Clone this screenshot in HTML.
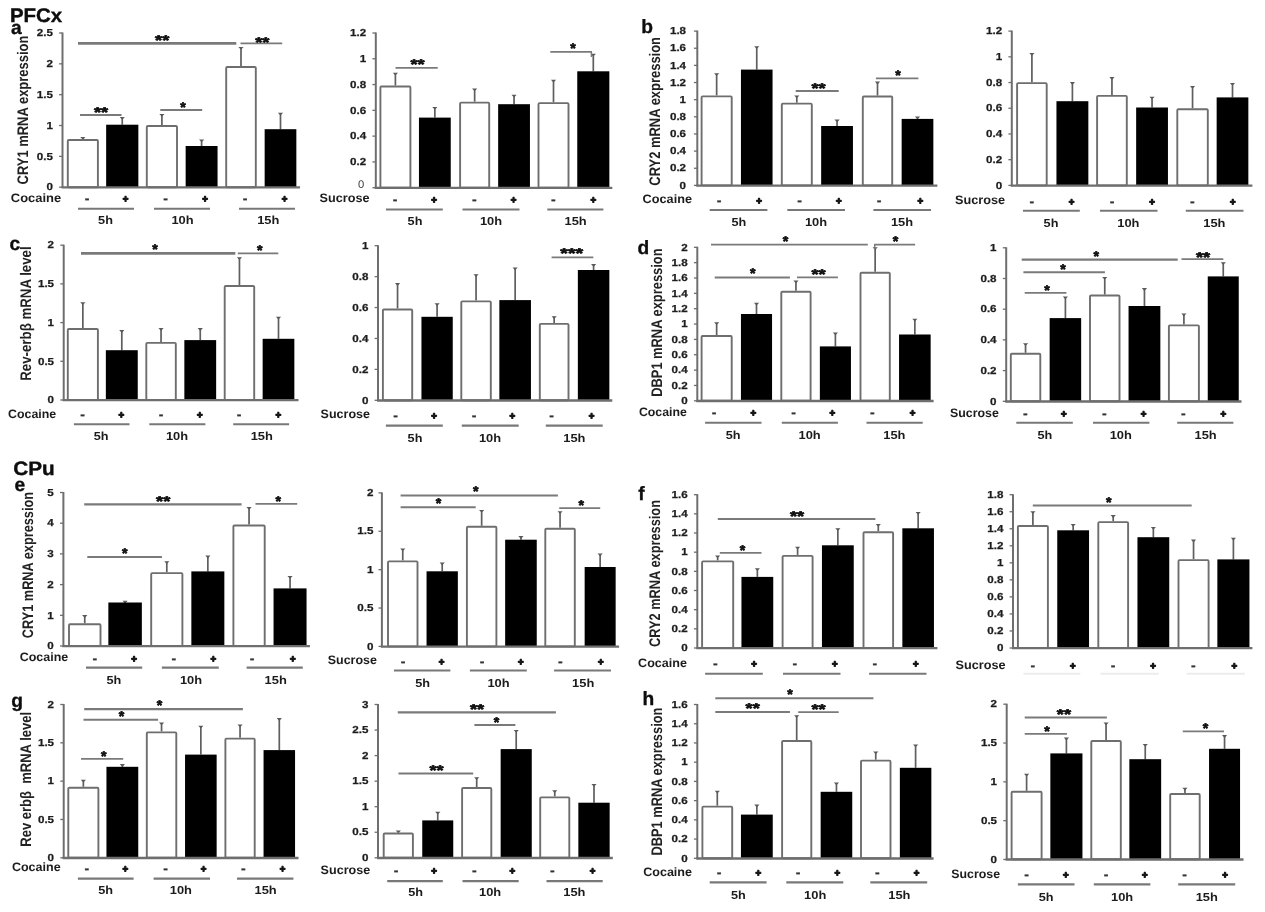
<!DOCTYPE html>
<html lang="en"><head><meta charset="utf-8"><title>Clock gene mRNA expression in PFCx and CPu</title>
<style>html,body{margin:0;padding:0;background:#fff}body{width:1265px;height:912px;overflow:hidden}svg{display:block;font-family:"Liberation Sans", Arial, Helvetica, sans-serif;text-rendering:geometricPrecision}</style></head><body>
<svg width="1265" height="912" viewBox="0 0 1265 912">
<defs><filter id="soft" x="0" y="0" width="1265" height="912" filterUnits="userSpaceOnUse"><feGaussianBlur stdDeviation="0.42"/></filter></defs>
<rect width="1265" height="912" fill="#fff"/>
<g filter="url(#soft)">
<text x="9.9" y="21.5" font-size="19.6" font-weight="bold" text-anchor="start" fill="#0a0a0a" textLength="52.3" lengthAdjust="spacingAndGlyphs" stroke="#0a0a0a" stroke-width="0.35">PFCx</text>
<text x="13.2" y="474.6" font-size="19.4" font-weight="bold" text-anchor="start" fill="#0a0a0a" textLength="41.5" lengthAdjust="spacingAndGlyphs" stroke="#0a0a0a" stroke-width="0.35">CPu</text>
<g>
<line x1="82.85" y1="137.5" x2="82.85" y2="139" stroke="#5e5e5e" stroke-width="1.7" stroke-linecap="butt"/>
<path d="M80.25 136.9 L85.45 136.9 L82.85 139.7 Z" fill="#5a5a5a"/>
<rect x="67.8" y="139.95" width="30.1" height="47.25" fill="#fff" stroke="#6e6e6e" stroke-width="1.9" rx="1" ry="1"/>
<line x1="122.25" y1="117.6" x2="122.25" y2="124.7" stroke="#5e5e5e" stroke-width="1.7" stroke-linecap="butt"/>
<path d="M119.65 117 L124.85 117 L122.25 119.8 Z" fill="#5a5a5a"/>
<rect x="106.15" y="124.7" width="32.2" height="62.5" fill="#000"/>
<line x1="161.9" y1="114.5" x2="161.9" y2="125.1" stroke="#5e5e5e" stroke-width="1.7" stroke-linecap="butt"/>
<path d="M159.3 113.9 L164.5 113.9 L161.9 116.7 Z" fill="#5a5a5a"/>
<rect x="146.8" y="126.05" width="30.2" height="61.15" fill="#fff" stroke="#6e6e6e" stroke-width="1.9" rx="1" ry="1"/>
<line x1="201.6" y1="140" x2="201.6" y2="146" stroke="#5e5e5e" stroke-width="1.7" stroke-linecap="butt"/>
<path d="M199 139.4 L204.2 139.4 L201.6 142.2 Z" fill="#5a5a5a"/>
<rect x="185.65" y="146" width="31.9" height="41.2" fill="#000"/>
<line x1="241" y1="47.5" x2="241" y2="66" stroke="#5e5e5e" stroke-width="1.7" stroke-linecap="butt"/>
<path d="M238.4 46.9 L243.6 46.9 L241 49.7 Z" fill="#5a5a5a"/>
<rect x="226.2" y="66.95" width="29.6" height="120.25" fill="#fff" stroke="#6e6e6e" stroke-width="1.9" rx="1" ry="1"/>
<line x1="280.5" y1="113.3" x2="280.5" y2="129.2" stroke="#5e5e5e" stroke-width="1.7" stroke-linecap="butt"/>
<path d="M277.9 112.7 L283.1 112.7 L280.5 115.5 Z" fill="#5a5a5a"/>
<rect x="264.65" y="129.2" width="31.7" height="58" fill="#000"/>
<line x1="62.5" y1="32.5" x2="62.5" y2="188" stroke="#6e6e6e" stroke-width="2" stroke-linecap="butt"/>
<line x1="61.5" y1="187.4" x2="300" y2="187.4" stroke="#6e6e6e" stroke-width="2.3" stroke-linecap="butt"/>
<line x1="59.1" y1="33" x2="62.5" y2="33" stroke="#6e6e6e" stroke-width="1.3" stroke-linecap="butt"/>
<text x="52.9" y="36.2" font-size="10.1" font-weight="bold" text-anchor="end" fill="#1c1c1c" textLength="16.14" lengthAdjust="spacingAndGlyphs" stroke="#1c1c1c" stroke-width="0.25">2.5</text>
<line x1="59.1" y1="63.84" x2="62.5" y2="63.84" stroke="#6e6e6e" stroke-width="1.3" stroke-linecap="butt"/>
<text x="52.9" y="67.04" font-size="10.1" font-weight="bold" text-anchor="end" fill="#1c1c1c" textLength="6.46" lengthAdjust="spacingAndGlyphs" stroke="#1c1c1c" stroke-width="0.25">2</text>
<line x1="59.1" y1="94.68" x2="62.5" y2="94.68" stroke="#6e6e6e" stroke-width="1.3" stroke-linecap="butt"/>
<text x="52.9" y="97.88" font-size="10.1" font-weight="bold" text-anchor="end" fill="#1c1c1c" textLength="16.14" lengthAdjust="spacingAndGlyphs" stroke="#1c1c1c" stroke-width="0.25">1.5</text>
<line x1="59.1" y1="125.52" x2="62.5" y2="125.52" stroke="#6e6e6e" stroke-width="1.3" stroke-linecap="butt"/>
<text x="52.9" y="128.72" font-size="10.1" font-weight="bold" text-anchor="end" fill="#1c1c1c" textLength="6.46" lengthAdjust="spacingAndGlyphs" stroke="#1c1c1c" stroke-width="0.25">1</text>
<line x1="59.1" y1="156.36" x2="62.5" y2="156.36" stroke="#6e6e6e" stroke-width="1.3" stroke-linecap="butt"/>
<text x="52.9" y="159.56" font-size="10.1" font-weight="bold" text-anchor="end" fill="#1c1c1c" textLength="16.14" lengthAdjust="spacingAndGlyphs" stroke="#1c1c1c" stroke-width="0.25">0.5</text>
<line x1="59.1" y1="187.2" x2="62.5" y2="187.2" stroke="#6e6e6e" stroke-width="1.3" stroke-linecap="butt"/>
<text x="52.9" y="190.4" font-size="10.1" font-weight="bold" text-anchor="end" fill="#1c1c1c" textLength="6.46" lengthAdjust="spacingAndGlyphs" stroke="#1c1c1c" stroke-width="0.25">0</text>
<line x1="78" y1="43.4" x2="236.3" y2="43.4" stroke="#7a7a7a" stroke-width="2.74" stroke-linecap="butt"/>
<text x="162.2" y="45.1" font-size="14.2" font-weight="bold" text-anchor="middle" fill="#0c0c0c" textLength="14.2" lengthAdjust="spacingAndGlyphs" stroke="#0c0c0c" stroke-width="0.65" stroke-linejoin="round">**</text>
<line x1="240.5" y1="43.4" x2="282.2" y2="43.4" stroke="#7a7a7a" stroke-width="1.78" stroke-linecap="butt"/>
<text x="262.3" y="46.5" font-size="14.2" font-weight="bold" text-anchor="middle" fill="#0c0c0c" textLength="14.2" lengthAdjust="spacingAndGlyphs" stroke="#0c0c0c" stroke-width="0.65" stroke-linejoin="round">**</text>
<line x1="80" y1="115" x2="121.5" y2="115" stroke="#7a7a7a" stroke-width="1.78" stroke-linecap="butt"/>
<text x="101" y="116.5" font-size="14.2" font-weight="bold" text-anchor="middle" fill="#0c0c0c" textLength="14.2" lengthAdjust="spacingAndGlyphs" stroke="#0c0c0c" stroke-width="0.65" stroke-linejoin="round">**</text>
<line x1="160.3" y1="110" x2="202.2" y2="110" stroke="#7a7a7a" stroke-width="1.78" stroke-linecap="butt"/>
<text x="183" y="111.5" font-size="14.2" font-weight="bold" text-anchor="middle" fill="#0c0c0c" stroke="#0c0c0c" stroke-width="0.65" stroke-linejoin="round">*</text>
<text x="10.8" y="201.6" font-size="12.2" font-weight="bold" text-anchor="start" fill="#1c1c1c" textLength="50.4" lengthAdjust="spacingAndGlyphs">Cocaine</text>
<text x="87" y="203.2" font-size="14" font-weight="bold" text-anchor="middle" fill="#333" stroke="#333" stroke-width="0.3">-</text>
<text x="165.7" y="203.2" font-size="14" font-weight="bold" text-anchor="middle" fill="#333" stroke="#333" stroke-width="0.3">-</text>
<text x="245" y="203.2" font-size="14" font-weight="bold" text-anchor="middle" fill="#333" stroke="#333" stroke-width="0.3">-</text>
<text x="125.6" y="202.15" font-size="9.6" font-weight="bold" text-anchor="middle" fill="#161616" stroke="#161616" stroke-width="1.25" stroke-linejoin="round">+</text>
<text x="205" y="202.15" font-size="9.6" font-weight="bold" text-anchor="middle" fill="#161616" stroke="#161616" stroke-width="1.25" stroke-linejoin="round">+</text>
<text x="284.6" y="202.15" font-size="9.6" font-weight="bold" text-anchor="middle" fill="#161616" stroke="#161616" stroke-width="1.25" stroke-linejoin="round">+</text>
<line x1="78" y1="208.7" x2="134" y2="208.7" stroke="#787878" stroke-width="2.1" stroke-linecap="butt"/>
<line x1="154" y1="208.7" x2="210" y2="208.7" stroke="#787878" stroke-width="2.1" stroke-linecap="butt"/>
<line x1="239" y1="208.7" x2="295" y2="208.7" stroke="#787878" stroke-width="2.1" stroke-linecap="butt"/>
<text x="105.5" y="224.3" font-size="11.6" font-weight="bold" text-anchor="middle" fill="#1c1c1c" textLength="14.8" lengthAdjust="spacingAndGlyphs">5h</text>
<text x="182.5" y="224.3" font-size="11.6" font-weight="bold" text-anchor="middle" fill="#1c1c1c" textLength="22.2" lengthAdjust="spacingAndGlyphs">10h</text>
<text x="268.3" y="224.3" font-size="11.6" font-weight="bold" text-anchor="middle" fill="#1c1c1c" textLength="22.2" lengthAdjust="spacingAndGlyphs">15h</text>
<text transform="translate(28.3 110.05) rotate(-90)" font-size="15.3" font-weight="bold" text-anchor="middle" fill="#222" stroke="none" textLength="148.7" lengthAdjust="spacingAndGlyphs">CRY1 mRNA expression</text>
<text x="11" y="34.3" font-size="19.2" font-weight="bold" text-anchor="start" fill="#0a0a0a" stroke="#0a0a0a" stroke-width="0.3">a</text>
</g>
<g>
<line x1="395.4" y1="73.4" x2="395.4" y2="85.5" stroke="#5e5e5e" stroke-width="1.7" stroke-linecap="butt"/>
<path d="M392.8 72.8 L398 72.8 L395.4 75.6 Z" fill="#5a5a5a"/>
<rect x="380.4" y="86.45" width="30" height="101.25" fill="#fff" stroke="#6e6e6e" stroke-width="1.9" rx="1" ry="1"/>
<line x1="434.85" y1="107.5" x2="434.85" y2="117.6" stroke="#5e5e5e" stroke-width="1.7" stroke-linecap="butt"/>
<path d="M432.25 106.9 L437.45 106.9 L434.85 109.7 Z" fill="#5a5a5a"/>
<rect x="418.95" y="117.6" width="31.8" height="70.1" fill="#000"/>
<line x1="474.65" y1="89" x2="474.65" y2="101.7" stroke="#5e5e5e" stroke-width="1.7" stroke-linecap="butt"/>
<path d="M472.05 88.4 L477.25 88.4 L474.65 91.2 Z" fill="#5a5a5a"/>
<rect x="460.1" y="102.65" width="29.1" height="85.05" fill="#fff" stroke="#6e6e6e" stroke-width="1.9" rx="1" ry="1"/>
<line x1="514.05" y1="95.4" x2="514.05" y2="104.2" stroke="#5e5e5e" stroke-width="1.7" stroke-linecap="butt"/>
<path d="M511.45 94.8 L516.65 94.8 L514.05 97.6 Z" fill="#5a5a5a"/>
<rect x="498.15" y="104.2" width="31.8" height="83.5" fill="#000"/>
<line x1="553.5" y1="80.4" x2="553.5" y2="102.2" stroke="#5e5e5e" stroke-width="1.7" stroke-linecap="butt"/>
<path d="M550.9 79.8 L556.1 79.8 L553.5 82.6 Z" fill="#5a5a5a"/>
<rect x="538.5" y="103.15" width="30" height="84.55" fill="#fff" stroke="#6e6e6e" stroke-width="1.9" rx="1" ry="1"/>
<line x1="593.3" y1="54.4" x2="593.3" y2="71.3" stroke="#5e5e5e" stroke-width="1.7" stroke-linecap="butt"/>
<path d="M590.7 53.8 L595.9 53.8 L593.3 56.6 Z" fill="#5a5a5a"/>
<rect x="577.25" y="71.3" width="32.1" height="116.4" fill="#000"/>
<line x1="375.8" y1="32.5" x2="375.8" y2="188.5" stroke="#6e6e6e" stroke-width="2" stroke-linecap="butt"/>
<line x1="374.8" y1="187.9" x2="612.3" y2="187.9" stroke="#6e6e6e" stroke-width="2.3" stroke-linecap="butt"/>
<line x1="372.4" y1="33" x2="375.8" y2="33" stroke="#6e6e6e" stroke-width="1.3" stroke-linecap="butt"/>
<text x="366.2" y="36.2" font-size="10.1" font-weight="bold" text-anchor="end" fill="#1c1c1c" textLength="16.14" lengthAdjust="spacingAndGlyphs" stroke="#1c1c1c" stroke-width="0.25">1.2</text>
<line x1="372.4" y1="58.78" x2="375.8" y2="58.78" stroke="#6e6e6e" stroke-width="1.3" stroke-linecap="butt"/>
<text x="366.2" y="61.98" font-size="10.1" font-weight="bold" text-anchor="end" fill="#1c1c1c" textLength="6.46" lengthAdjust="spacingAndGlyphs" stroke="#1c1c1c" stroke-width="0.25">1</text>
<line x1="372.4" y1="84.57" x2="375.8" y2="84.57" stroke="#6e6e6e" stroke-width="1.3" stroke-linecap="butt"/>
<text x="366.2" y="87.77" font-size="10.1" font-weight="bold" text-anchor="end" fill="#1c1c1c" textLength="16.14" lengthAdjust="spacingAndGlyphs" stroke="#1c1c1c" stroke-width="0.25">0.8</text>
<line x1="372.4" y1="110.35" x2="375.8" y2="110.35" stroke="#6e6e6e" stroke-width="1.3" stroke-linecap="butt"/>
<text x="366.2" y="113.55" font-size="10.1" font-weight="bold" text-anchor="end" fill="#1c1c1c" textLength="16.14" lengthAdjust="spacingAndGlyphs" stroke="#1c1c1c" stroke-width="0.25">0.6</text>
<line x1="372.4" y1="136.13" x2="375.8" y2="136.13" stroke="#6e6e6e" stroke-width="1.3" stroke-linecap="butt"/>
<text x="366.2" y="139.33" font-size="10.1" font-weight="bold" text-anchor="end" fill="#1c1c1c" textLength="16.14" lengthAdjust="spacingAndGlyphs" stroke="#1c1c1c" stroke-width="0.25">0.4</text>
<line x1="372.4" y1="161.92" x2="375.8" y2="161.92" stroke="#6e6e6e" stroke-width="1.3" stroke-linecap="butt"/>
<text x="366.2" y="165.12" font-size="10.1" font-weight="bold" text-anchor="end" fill="#1c1c1c" textLength="16.14" lengthAdjust="spacingAndGlyphs" stroke="#1c1c1c" stroke-width="0.25">0.2</text>
<line x1="372.4" y1="187.7" x2="375.8" y2="187.7" stroke="#6e6e6e" stroke-width="1.3" stroke-linecap="butt"/>
<text x="364.3" y="187.5" font-size="11.2" font-weight="normal" text-anchor="end" fill="#3a3a44">0</text>
<line x1="395.5" y1="67.8" x2="437.7" y2="67.8" stroke="#7a7a7a" stroke-width="1.78" stroke-linecap="butt"/>
<text x="417.5" y="69.1" font-size="14.2" font-weight="bold" text-anchor="middle" fill="#0c0c0c" textLength="14.2" lengthAdjust="spacingAndGlyphs" stroke="#0c0c0c" stroke-width="0.65" stroke-linejoin="round">**</text>
<line x1="550.3" y1="51.9" x2="592" y2="51.9" stroke="#7a7a7a" stroke-width="1.78" stroke-linecap="butt"/>
<line x1="591.4" y1="51.2" x2="591.4" y2="57" stroke="#7a7a7a" stroke-width="1.4" stroke-linecap="butt"/>
<text x="573" y="53.1" font-size="14.2" font-weight="bold" text-anchor="middle" fill="#0c0c0c" stroke="#0c0c0c" stroke-width="0.65" stroke-linejoin="round">*</text>
<text x="319.6" y="201.7" font-size="12.2" font-weight="bold" text-anchor="start" fill="#1c1c1c" textLength="50" lengthAdjust="spacingAndGlyphs">Sucrose</text>
<text x="395" y="203.8" font-size="14" font-weight="bold" text-anchor="middle" fill="#333" stroke="#333" stroke-width="0.3">-</text>
<text x="474.4" y="203.8" font-size="14" font-weight="bold" text-anchor="middle" fill="#333" stroke="#333" stroke-width="0.3">-</text>
<text x="553.4" y="203.8" font-size="14" font-weight="bold" text-anchor="middle" fill="#333" stroke="#333" stroke-width="0.3">-</text>
<text x="434" y="202.75" font-size="9.6" font-weight="bold" text-anchor="middle" fill="#161616" stroke="#161616" stroke-width="1.25" stroke-linejoin="round">+</text>
<text x="513.6" y="202.75" font-size="9.6" font-weight="bold" text-anchor="middle" fill="#161616" stroke="#161616" stroke-width="1.25" stroke-linejoin="round">+</text>
<text x="593.3" y="202.75" font-size="9.6" font-weight="bold" text-anchor="middle" fill="#161616" stroke="#161616" stroke-width="1.25" stroke-linejoin="round">+</text>
<line x1="386" y1="209.5" x2="442.8" y2="209.5" stroke="#787878" stroke-width="2.1" stroke-linecap="butt"/>
<line x1="462.5" y1="209.5" x2="519.5" y2="209.5" stroke="#787878" stroke-width="2.1" stroke-linecap="butt"/>
<line x1="547.3" y1="209.5" x2="603.4" y2="209.5" stroke="#787878" stroke-width="2.1" stroke-linecap="butt"/>
<text x="415" y="225.3" font-size="11.6" font-weight="bold" text-anchor="middle" fill="#1c1c1c" textLength="14.8" lengthAdjust="spacingAndGlyphs">5h</text>
<text x="491" y="225.3" font-size="11.6" font-weight="bold" text-anchor="middle" fill="#1c1c1c" textLength="22.2" lengthAdjust="spacingAndGlyphs">10h</text>
<text x="575.6" y="225.3" font-size="11.6" font-weight="bold" text-anchor="middle" fill="#1c1c1c" textLength="22.2" lengthAdjust="spacingAndGlyphs">15h</text>
</g>
<g>
<line x1="716.65" y1="73.9" x2="716.65" y2="95.4" stroke="#5e5e5e" stroke-width="1.7" stroke-linecap="butt"/>
<path d="M714.05 73.3 L719.25 73.3 L716.65 76.1 Z" fill="#5a5a5a"/>
<rect x="701.6" y="96.35" width="30.1" height="89.05" fill="#fff" stroke="#6e6e6e" stroke-width="1.9" rx="1" ry="1"/>
<line x1="756.75" y1="46.8" x2="756.75" y2="69.6" stroke="#5e5e5e" stroke-width="1.7" stroke-linecap="butt"/>
<path d="M754.15 46.2 L759.35 46.2 L756.75 49 Z" fill="#5a5a5a"/>
<rect x="740.95" y="69.6" width="31.6" height="115.8" fill="#000"/>
<line x1="796.8" y1="96.1" x2="796.8" y2="102.7" stroke="#5e5e5e" stroke-width="1.7" stroke-linecap="butt"/>
<path d="M794.2 95.5 L799.4 95.5 L796.8 98.3 Z" fill="#5a5a5a"/>
<rect x="781.8" y="103.65" width="30" height="81.75" fill="#fff" stroke="#6e6e6e" stroke-width="1.9" rx="1" ry="1"/>
<line x1="837.05" y1="120.2" x2="837.05" y2="126" stroke="#5e5e5e" stroke-width="1.7" stroke-linecap="butt"/>
<path d="M834.45 119.6 L839.65 119.6 L837.05 122.4 Z" fill="#5a5a5a"/>
<rect x="821.15" y="126" width="31.8" height="59.4" fill="#000"/>
<line x1="877.5" y1="82.2" x2="877.5" y2="95.6" stroke="#5e5e5e" stroke-width="1.7" stroke-linecap="butt"/>
<path d="M874.9 81.6 L880.1 81.6 L877.5 84.4 Z" fill="#5a5a5a"/>
<rect x="862.8" y="96.55" width="29.4" height="88.85" fill="#fff" stroke="#6e6e6e" stroke-width="1.9" rx="1" ry="1"/>
<line x1="917.5" y1="117" x2="917.5" y2="118.9" stroke="#5e5e5e" stroke-width="1.7" stroke-linecap="butt"/>
<path d="M914.9 116.4 L920.1 116.4 L917.5 119.2 Z" fill="#5a5a5a"/>
<rect x="901.65" y="118.9" width="31.7" height="66.5" fill="#000"/>
<line x1="697.3" y1="30.6" x2="697.3" y2="186.2" stroke="#6e6e6e" stroke-width="2" stroke-linecap="butt"/>
<line x1="696.3" y1="185.6" x2="937.4" y2="185.6" stroke="#6e6e6e" stroke-width="2.3" stroke-linecap="butt"/>
<line x1="693.9" y1="31.1" x2="697.3" y2="31.1" stroke="#6e6e6e" stroke-width="1.3" stroke-linecap="butt"/>
<text x="686.1" y="34.3" font-size="10.1" font-weight="bold" text-anchor="end" fill="#1c1c1c" textLength="16.14" lengthAdjust="spacingAndGlyphs" stroke="#1c1c1c" stroke-width="0.25">1.8</text>
<line x1="693.9" y1="48.24" x2="697.3" y2="48.24" stroke="#6e6e6e" stroke-width="1.3" stroke-linecap="butt"/>
<text x="686.1" y="51.44" font-size="10.1" font-weight="bold" text-anchor="end" fill="#1c1c1c" textLength="16.14" lengthAdjust="spacingAndGlyphs" stroke="#1c1c1c" stroke-width="0.25">1.6</text>
<line x1="693.9" y1="65.39" x2="697.3" y2="65.39" stroke="#6e6e6e" stroke-width="1.3" stroke-linecap="butt"/>
<text x="686.1" y="68.59" font-size="10.1" font-weight="bold" text-anchor="end" fill="#1c1c1c" textLength="16.14" lengthAdjust="spacingAndGlyphs" stroke="#1c1c1c" stroke-width="0.25">1.4</text>
<line x1="693.9" y1="82.53" x2="697.3" y2="82.53" stroke="#6e6e6e" stroke-width="1.3" stroke-linecap="butt"/>
<text x="686.1" y="85.73" font-size="10.1" font-weight="bold" text-anchor="end" fill="#1c1c1c" textLength="16.14" lengthAdjust="spacingAndGlyphs" stroke="#1c1c1c" stroke-width="0.25">1.2</text>
<line x1="693.9" y1="99.68" x2="697.3" y2="99.68" stroke="#6e6e6e" stroke-width="1.3" stroke-linecap="butt"/>
<text x="686.1" y="102.88" font-size="10.1" font-weight="bold" text-anchor="end" fill="#1c1c1c" textLength="6.46" lengthAdjust="spacingAndGlyphs" stroke="#1c1c1c" stroke-width="0.25">1</text>
<line x1="693.9" y1="116.82" x2="697.3" y2="116.82" stroke="#6e6e6e" stroke-width="1.3" stroke-linecap="butt"/>
<text x="686.1" y="120.02" font-size="10.1" font-weight="bold" text-anchor="end" fill="#1c1c1c" textLength="16.14" lengthAdjust="spacingAndGlyphs" stroke="#1c1c1c" stroke-width="0.25">0.8</text>
<line x1="693.9" y1="133.97" x2="697.3" y2="133.97" stroke="#6e6e6e" stroke-width="1.3" stroke-linecap="butt"/>
<text x="686.1" y="137.17" font-size="10.1" font-weight="bold" text-anchor="end" fill="#1c1c1c" textLength="16.14" lengthAdjust="spacingAndGlyphs" stroke="#1c1c1c" stroke-width="0.25">0.6</text>
<line x1="693.9" y1="151.11" x2="697.3" y2="151.11" stroke="#6e6e6e" stroke-width="1.3" stroke-linecap="butt"/>
<text x="686.1" y="154.31" font-size="10.1" font-weight="bold" text-anchor="end" fill="#1c1c1c" textLength="16.14" lengthAdjust="spacingAndGlyphs" stroke="#1c1c1c" stroke-width="0.25">0.4</text>
<line x1="693.9" y1="168.26" x2="697.3" y2="168.26" stroke="#6e6e6e" stroke-width="1.3" stroke-linecap="butt"/>
<text x="686.1" y="171.46" font-size="10.1" font-weight="bold" text-anchor="end" fill="#1c1c1c" textLength="16.14" lengthAdjust="spacingAndGlyphs" stroke="#1c1c1c" stroke-width="0.25">0.2</text>
<line x1="693.9" y1="185.4" x2="697.3" y2="185.4" stroke="#6e6e6e" stroke-width="1.3" stroke-linecap="butt"/>
<text x="686.1" y="188.6" font-size="10.1" font-weight="bold" text-anchor="end" fill="#1c1c1c" textLength="6.46" lengthAdjust="spacingAndGlyphs" stroke="#1c1c1c" stroke-width="0.25">0</text>
<line x1="795.7" y1="91" x2="838.7" y2="91" stroke="#7a7a7a" stroke-width="1.78" stroke-linecap="butt"/>
<text x="818.5" y="92.5" font-size="14.2" font-weight="bold" text-anchor="middle" fill="#0c0c0c" textLength="14.2" lengthAdjust="spacingAndGlyphs" stroke="#0c0c0c" stroke-width="0.65" stroke-linejoin="round">**</text>
<line x1="875.9" y1="78.4" x2="918.4" y2="78.4" stroke="#7a7a7a" stroke-width="1.78" stroke-linecap="butt"/>
<text x="898" y="79.9" font-size="14.2" font-weight="bold" text-anchor="middle" fill="#0c0c0c" stroke="#0c0c0c" stroke-width="0.65" stroke-linejoin="round">*</text>
<text x="642.6" y="203.4" font-size="12.2" font-weight="bold" text-anchor="start" fill="#1c1c1c" textLength="49.4" lengthAdjust="spacingAndGlyphs">Cocaine</text>
<text x="719" y="204.8" font-size="14" font-weight="bold" text-anchor="middle" fill="#333" stroke="#333" stroke-width="0.3">-</text>
<text x="799.5" y="204.8" font-size="14" font-weight="bold" text-anchor="middle" fill="#333" stroke="#333" stroke-width="0.3">-</text>
<text x="879.2" y="204.8" font-size="14" font-weight="bold" text-anchor="middle" fill="#333" stroke="#333" stroke-width="0.3">-</text>
<text x="759" y="203.75" font-size="9.6" font-weight="bold" text-anchor="middle" fill="#161616" stroke="#161616" stroke-width="1.25" stroke-linejoin="round">+</text>
<text x="838.7" y="203.75" font-size="9.6" font-weight="bold" text-anchor="middle" fill="#161616" stroke="#161616" stroke-width="1.25" stroke-linejoin="round">+</text>
<text x="920.2" y="203.75" font-size="9.6" font-weight="bold" text-anchor="middle" fill="#161616" stroke="#161616" stroke-width="1.25" stroke-linejoin="round">+</text>
<line x1="709.7" y1="210" x2="767.4" y2="210" stroke="#787878" stroke-width="2.1" stroke-linecap="butt"/>
<line x1="787.3" y1="210" x2="845" y2="210" stroke="#787878" stroke-width="2.1" stroke-linecap="butt"/>
<line x1="873.4" y1="210" x2="931" y2="210" stroke="#787878" stroke-width="2.1" stroke-linecap="butt"/>
<text x="738.8" y="226.3" font-size="11.6" font-weight="bold" text-anchor="middle" fill="#1c1c1c" textLength="14.8" lengthAdjust="spacingAndGlyphs">5h</text>
<text x="816" y="226.3" font-size="11.6" font-weight="bold" text-anchor="middle" fill="#1c1c1c" textLength="22.2" lengthAdjust="spacingAndGlyphs">10h</text>
<text x="902" y="226.3" font-size="11.6" font-weight="bold" text-anchor="middle" fill="#1c1c1c" textLength="22.2" lengthAdjust="spacingAndGlyphs">15h</text>
<text transform="translate(659.5 111.35) rotate(-90)" font-size="15.3" font-weight="bold" text-anchor="middle" fill="#222" stroke="none" textLength="148.7" lengthAdjust="spacingAndGlyphs">CRY2 mRNA expression</text>
<text x="641.2" y="32.6" font-size="19.2" font-weight="bold" text-anchor="start" fill="#0a0a0a" stroke="#0a0a0a" stroke-width="0.3">b</text>
</g>
<g>
<line x1="1031.9" y1="53.6" x2="1031.9" y2="82.2" stroke="#5e5e5e" stroke-width="1.7" stroke-linecap="butt"/>
<path d="M1029.3 53 L1034.5 53 L1031.9 55.8 Z" fill="#5a5a5a"/>
<rect x="1017.1" y="83.15" width="29.6" height="102.25" fill="#fff" stroke="#6e6e6e" stroke-width="1.9" rx="1" ry="1"/>
<line x1="1072.4" y1="82.7" x2="1072.4" y2="101.2" stroke="#5e5e5e" stroke-width="1.7" stroke-linecap="butt"/>
<path d="M1069.8 82.1 L1075 82.1 L1072.4 84.9 Z" fill="#5a5a5a"/>
<rect x="1056.45" y="101.2" width="31.9" height="84.2" fill="#000"/>
<line x1="1111.95" y1="77.7" x2="1111.95" y2="94.9" stroke="#5e5e5e" stroke-width="1.7" stroke-linecap="butt"/>
<path d="M1109.35 77.1 L1114.55 77.1 L1111.95 79.9 Z" fill="#5a5a5a"/>
<rect x="1097.1" y="95.85" width="29.7" height="89.55" fill="#fff" stroke="#6e6e6e" stroke-width="1.9" rx="1" ry="1"/>
<line x1="1152.05" y1="97.4" x2="1152.05" y2="107.5" stroke="#5e5e5e" stroke-width="1.7" stroke-linecap="butt"/>
<path d="M1149.45 96.8 L1154.65 96.8 L1152.05 99.6 Z" fill="#5a5a5a"/>
<rect x="1136.15" y="107.5" width="31.8" height="77.9" fill="#000"/>
<line x1="1192.55" y1="86.5" x2="1192.55" y2="108.3" stroke="#5e5e5e" stroke-width="1.7" stroke-linecap="butt"/>
<path d="M1189.95 85.9 L1195.15 85.9 L1192.55 88.7 Z" fill="#5a5a5a"/>
<rect x="1177.3" y="109.25" width="30.5" height="76.15" fill="#fff" stroke="#6e6e6e" stroke-width="1.9" rx="1" ry="1"/>
<line x1="1232.5" y1="83.5" x2="1232.5" y2="97.4" stroke="#5e5e5e" stroke-width="1.7" stroke-linecap="butt"/>
<path d="M1229.9 82.9 L1235.1 82.9 L1232.5 85.7 Z" fill="#5a5a5a"/>
<rect x="1216.65" y="97.4" width="31.7" height="88" fill="#000"/>
<line x1="1011.8" y1="30.6" x2="1011.8" y2="186.2" stroke="#6e6e6e" stroke-width="2" stroke-linecap="butt"/>
<line x1="1010.8" y1="185.6" x2="1252.4" y2="185.6" stroke="#6e6e6e" stroke-width="2.3" stroke-linecap="butt"/>
<line x1="1008.4" y1="31.1" x2="1011.8" y2="31.1" stroke="#6e6e6e" stroke-width="1.3" stroke-linecap="butt"/>
<text x="1002.2" y="34.3" font-size="10.1" font-weight="bold" text-anchor="end" fill="#1c1c1c" textLength="16.14" lengthAdjust="spacingAndGlyphs" stroke="#1c1c1c" stroke-width="0.25">1.2</text>
<line x1="1008.4" y1="56.82" x2="1011.8" y2="56.82" stroke="#6e6e6e" stroke-width="1.3" stroke-linecap="butt"/>
<text x="1002.2" y="60.02" font-size="10.1" font-weight="bold" text-anchor="end" fill="#1c1c1c" textLength="6.46" lengthAdjust="spacingAndGlyphs" stroke="#1c1c1c" stroke-width="0.25">1</text>
<line x1="1008.4" y1="82.53" x2="1011.8" y2="82.53" stroke="#6e6e6e" stroke-width="1.3" stroke-linecap="butt"/>
<text x="1002.2" y="85.73" font-size="10.1" font-weight="bold" text-anchor="end" fill="#1c1c1c" textLength="16.14" lengthAdjust="spacingAndGlyphs" stroke="#1c1c1c" stroke-width="0.25">0.8</text>
<line x1="1008.4" y1="108.25" x2="1011.8" y2="108.25" stroke="#6e6e6e" stroke-width="1.3" stroke-linecap="butt"/>
<text x="1002.2" y="111.45" font-size="10.1" font-weight="bold" text-anchor="end" fill="#1c1c1c" textLength="16.14" lengthAdjust="spacingAndGlyphs" stroke="#1c1c1c" stroke-width="0.25">0.6</text>
<line x1="1008.4" y1="133.97" x2="1011.8" y2="133.97" stroke="#6e6e6e" stroke-width="1.3" stroke-linecap="butt"/>
<text x="1002.2" y="137.17" font-size="10.1" font-weight="bold" text-anchor="end" fill="#1c1c1c" textLength="16.14" lengthAdjust="spacingAndGlyphs" stroke="#1c1c1c" stroke-width="0.25">0.4</text>
<line x1="1008.4" y1="159.68" x2="1011.8" y2="159.68" stroke="#6e6e6e" stroke-width="1.3" stroke-linecap="butt"/>
<text x="1002.2" y="162.88" font-size="10.1" font-weight="bold" text-anchor="end" fill="#1c1c1c" textLength="16.14" lengthAdjust="spacingAndGlyphs" stroke="#1c1c1c" stroke-width="0.25">0.2</text>
<line x1="1008.4" y1="185.4" x2="1011.8" y2="185.4" stroke="#6e6e6e" stroke-width="1.3" stroke-linecap="butt"/>
<text x="1002.2" y="188.6" font-size="10.1" font-weight="bold" text-anchor="end" fill="#1c1c1c" textLength="6.46" lengthAdjust="spacingAndGlyphs" stroke="#1c1c1c" stroke-width="0.25">0</text>
<text x="955" y="204.2" font-size="12.2" font-weight="bold" text-anchor="start" fill="#1c1c1c" textLength="50.2" lengthAdjust="spacingAndGlyphs">Sucrose</text>
<text x="1031.8" y="205.8" font-size="14" font-weight="bold" text-anchor="middle" fill="#333" stroke="#333" stroke-width="0.3">-</text>
<text x="1112" y="205.8" font-size="14" font-weight="bold" text-anchor="middle" fill="#333" stroke="#333" stroke-width="0.3">-</text>
<text x="1192.4" y="205.8" font-size="14" font-weight="bold" text-anchor="middle" fill="#333" stroke="#333" stroke-width="0.3">-</text>
<text x="1071.5" y="204.75" font-size="9.6" font-weight="bold" text-anchor="middle" fill="#161616" stroke="#161616" stroke-width="1.25" stroke-linejoin="round">+</text>
<text x="1152" y="204.75" font-size="9.6" font-weight="bold" text-anchor="middle" fill="#161616" stroke="#161616" stroke-width="1.25" stroke-linejoin="round">+</text>
<text x="1232.9" y="204.75" font-size="9.6" font-weight="bold" text-anchor="middle" fill="#161616" stroke="#161616" stroke-width="1.25" stroke-linejoin="round">+</text>
<line x1="1023" y1="210.7" x2="1079.8" y2="210.7" stroke="#787878" stroke-width="2.1" stroke-linecap="butt"/>
<line x1="1100" y1="210.7" x2="1157.5" y2="210.7" stroke="#787878" stroke-width="2.1" stroke-linecap="butt"/>
<line x1="1185.8" y1="210.7" x2="1243.5" y2="210.7" stroke="#787878" stroke-width="2.1" stroke-linecap="butt"/>
<text x="1051" y="226.9" font-size="11.6" font-weight="bold" text-anchor="middle" fill="#1c1c1c" textLength="14.8" lengthAdjust="spacingAndGlyphs">5h</text>
<text x="1128.4" y="226.9" font-size="11.6" font-weight="bold" text-anchor="middle" fill="#1c1c1c" textLength="22.2" lengthAdjust="spacingAndGlyphs">10h</text>
<text x="1214.4" y="226.9" font-size="11.6" font-weight="bold" text-anchor="middle" fill="#1c1c1c" textLength="22.2" lengthAdjust="spacingAndGlyphs">15h</text>
</g>
<g>
<line x1="82.85" y1="302.9" x2="82.85" y2="328" stroke="#5e5e5e" stroke-width="1.7" stroke-linecap="butt"/>
<path d="M80.25 302.3 L85.45 302.3 L82.85 305.1 Z" fill="#5a5a5a"/>
<rect x="67.8" y="328.95" width="30.1" height="71.05" fill="#fff" stroke="#6e6e6e" stroke-width="1.9" rx="1" ry="1"/>
<line x1="121.8" y1="330.7" x2="121.8" y2="350.2" stroke="#5e5e5e" stroke-width="1.7" stroke-linecap="butt"/>
<path d="M119.2 330.1 L124.4 330.1 L121.8 332.9 Z" fill="#5a5a5a"/>
<rect x="105.85" y="350.2" width="31.9" height="49.8" fill="#000"/>
<line x1="161.05" y1="328.7" x2="161.05" y2="341.9" stroke="#5e5e5e" stroke-width="1.7" stroke-linecap="butt"/>
<path d="M158.45 328.1 L163.65 328.1 L161.05 330.9 Z" fill="#5a5a5a"/>
<rect x="146.3" y="342.85" width="29.5" height="57.15" fill="#fff" stroke="#6e6e6e" stroke-width="1.9" rx="1" ry="1"/>
<line x1="200.25" y1="328.7" x2="200.25" y2="340.1" stroke="#5e5e5e" stroke-width="1.7" stroke-linecap="butt"/>
<path d="M197.65 328.1 L202.85 328.1 L200.25 330.9 Z" fill="#5a5a5a"/>
<rect x="184.35" y="340.1" width="31.8" height="59.9" fill="#000"/>
<line x1="239.45" y1="257.9" x2="239.45" y2="285" stroke="#5e5e5e" stroke-width="1.7" stroke-linecap="butt"/>
<path d="M236.85 257.3 L242.05 257.3 L239.45 260.1 Z" fill="#5a5a5a"/>
<rect x="224.7" y="285.95" width="29.5" height="114.05" fill="#fff" stroke="#6e6e6e" stroke-width="1.9" rx="1" ry="1"/>
<line x1="278.5" y1="317.3" x2="278.5" y2="338.8" stroke="#5e5e5e" stroke-width="1.7" stroke-linecap="butt"/>
<path d="M275.9 316.7 L281.1 316.7 L278.5 319.5 Z" fill="#5a5a5a"/>
<rect x="262.65" y="338.8" width="31.7" height="61.2" fill="#000"/>
<line x1="63.7" y1="244.7" x2="63.7" y2="400.8" stroke="#6e6e6e" stroke-width="2" stroke-linecap="butt"/>
<line x1="62.7" y1="400.2" x2="298.5" y2="400.2" stroke="#6e6e6e" stroke-width="2.3" stroke-linecap="butt"/>
<line x1="60.3" y1="245.2" x2="63.7" y2="245.2" stroke="#6e6e6e" stroke-width="1.3" stroke-linecap="butt"/>
<text x="54.1" y="248.4" font-size="10.1" font-weight="bold" text-anchor="end" fill="#1c1c1c" textLength="6.46" lengthAdjust="spacingAndGlyphs" stroke="#1c1c1c" stroke-width="0.25">2</text>
<line x1="60.3" y1="283.9" x2="63.7" y2="283.9" stroke="#6e6e6e" stroke-width="1.3" stroke-linecap="butt"/>
<text x="54.1" y="287.1" font-size="10.1" font-weight="bold" text-anchor="end" fill="#1c1c1c" textLength="16.14" lengthAdjust="spacingAndGlyphs" stroke="#1c1c1c" stroke-width="0.25">1.5</text>
<line x1="60.3" y1="322.6" x2="63.7" y2="322.6" stroke="#6e6e6e" stroke-width="1.3" stroke-linecap="butt"/>
<text x="54.1" y="325.8" font-size="10.1" font-weight="bold" text-anchor="end" fill="#1c1c1c" textLength="6.46" lengthAdjust="spacingAndGlyphs" stroke="#1c1c1c" stroke-width="0.25">1</text>
<line x1="60.3" y1="361.3" x2="63.7" y2="361.3" stroke="#6e6e6e" stroke-width="1.3" stroke-linecap="butt"/>
<text x="54.1" y="364.5" font-size="10.1" font-weight="bold" text-anchor="end" fill="#1c1c1c" textLength="16.14" lengthAdjust="spacingAndGlyphs" stroke="#1c1c1c" stroke-width="0.25">0.5</text>
<line x1="60.3" y1="400" x2="63.7" y2="400" stroke="#6e6e6e" stroke-width="1.3" stroke-linecap="butt"/>
<text x="54.1" y="403.2" font-size="10.1" font-weight="bold" text-anchor="end" fill="#1c1c1c" textLength="6.46" lengthAdjust="spacingAndGlyphs" stroke="#1c1c1c" stroke-width="0.25">0</text>
<line x1="81" y1="253.3" x2="235.3" y2="253.3" stroke="#7a7a7a" stroke-width="2.74" stroke-linecap="butt"/>
<text x="155" y="254.1" font-size="14.2" font-weight="bold" text-anchor="middle" fill="#0c0c0c" stroke="#0c0c0c" stroke-width="0.65" stroke-linejoin="round">*</text>
<line x1="237.8" y1="253.3" x2="278.3" y2="253.3" stroke="#7a7a7a" stroke-width="1.78" stroke-linecap="butt"/>
<text x="259.8" y="255.3" font-size="14.2" font-weight="bold" text-anchor="middle" fill="#0c0c0c" stroke="#0c0c0c" stroke-width="0.65" stroke-linejoin="round">*</text>
<text x="8" y="417.9" font-size="12.2" font-weight="bold" text-anchor="start" fill="#1c1c1c" textLength="48.2" lengthAdjust="spacingAndGlyphs">Cocaine</text>
<text x="82.7" y="419.2" font-size="14" font-weight="bold" text-anchor="middle" fill="#333" stroke="#333" stroke-width="0.3">-</text>
<text x="161.1" y="419.2" font-size="14" font-weight="bold" text-anchor="middle" fill="#333" stroke="#333" stroke-width="0.3">-</text>
<text x="239" y="419.2" font-size="14" font-weight="bold" text-anchor="middle" fill="#333" stroke="#333" stroke-width="0.3">-</text>
<text x="121.4" y="418.15" font-size="9.6" font-weight="bold" text-anchor="middle" fill="#161616" stroke="#161616" stroke-width="1.25" stroke-linejoin="round">+</text>
<text x="199.8" y="418.15" font-size="9.6" font-weight="bold" text-anchor="middle" fill="#161616" stroke="#161616" stroke-width="1.25" stroke-linejoin="round">+</text>
<text x="278.3" y="418.15" font-size="9.6" font-weight="bold" text-anchor="middle" fill="#161616" stroke="#161616" stroke-width="1.25" stroke-linejoin="round">+</text>
<line x1="73.9" y1="424.3" x2="129.5" y2="424.3" stroke="#787878" stroke-width="2.1" stroke-linecap="butt"/>
<line x1="149.3" y1="424.3" x2="205.4" y2="424.3" stroke="#787878" stroke-width="2.1" stroke-linecap="butt"/>
<line x1="233.2" y1="424.3" x2="289.1" y2="424.3" stroke="#787878" stroke-width="2.1" stroke-linecap="butt"/>
<text x="101.2" y="439.9" font-size="11.6" font-weight="bold" text-anchor="middle" fill="#1c1c1c" textLength="14.8" lengthAdjust="spacingAndGlyphs">5h</text>
<text x="177" y="439.9" font-size="11.6" font-weight="bold" text-anchor="middle" fill="#1c1c1c" textLength="22.2" lengthAdjust="spacingAndGlyphs">10h</text>
<text x="261.8" y="439.9" font-size="11.6" font-weight="bold" text-anchor="middle" fill="#1c1c1c" textLength="22.2" lengthAdjust="spacingAndGlyphs">15h</text>
<text transform="translate(31.2 313.55) rotate(-90)" font-size="15.3" font-weight="bold" text-anchor="middle" fill="#222" stroke="none" textLength="134.5" lengthAdjust="spacingAndGlyphs">Rev-erbβ mRNA level</text>
<text x="9.4" y="249.6" font-size="19.2" font-weight="bold" text-anchor="start" fill="#0a0a0a" stroke="#0a0a0a" stroke-width="0.3">c</text>
</g>
<g>
<line x1="397.55" y1="283.7" x2="397.55" y2="308.5" stroke="#5e5e5e" stroke-width="1.7" stroke-linecap="butt"/>
<path d="M394.95 283.1 L400.15 283.1 L397.55 285.9 Z" fill="#5a5a5a"/>
<rect x="382.9" y="309.45" width="29.3" height="90.85" fill="#fff" stroke="#6e6e6e" stroke-width="1.9" rx="1" ry="1"/>
<line x1="437.1" y1="303.9" x2="437.1" y2="316.8" stroke="#5e5e5e" stroke-width="1.7" stroke-linecap="butt"/>
<path d="M434.5 303.3 L439.7 303.3 L437.1 306.1 Z" fill="#5a5a5a"/>
<rect x="421.45" y="316.8" width="31.3" height="83.5" fill="#000"/>
<line x1="476.05" y1="274.8" x2="476.05" y2="300.4" stroke="#5e5e5e" stroke-width="1.7" stroke-linecap="butt"/>
<path d="M473.45 274.2 L478.65 274.2 L476.05 277 Z" fill="#5a5a5a"/>
<rect x="461.3" y="301.35" width="29.5" height="98.95" fill="#fff" stroke="#6e6e6e" stroke-width="1.9" rx="1" ry="1"/>
<line x1="515.15" y1="268" x2="515.15" y2="300.1" stroke="#5e5e5e" stroke-width="1.7" stroke-linecap="butt"/>
<path d="M512.55 267.4 L517.75 267.4 L515.15 270.2 Z" fill="#5a5a5a"/>
<rect x="499.35" y="300.1" width="31.6" height="100.2" fill="#000"/>
<line x1="554.15" y1="316.8" x2="554.15" y2="322.9" stroke="#5e5e5e" stroke-width="1.7" stroke-linecap="butt"/>
<path d="M551.55 316.2 L556.75 316.2 L554.15 319 Z" fill="#5a5a5a"/>
<rect x="539.8" y="323.85" width="28.7" height="76.45" fill="#fff" stroke="#6e6e6e" stroke-width="1.9" rx="1" ry="1"/>
<line x1="593.6" y1="264.7" x2="593.6" y2="270" stroke="#5e5e5e" stroke-width="1.7" stroke-linecap="butt"/>
<path d="M591 264.1 L596.2 264.1 L593.6 266.9 Z" fill="#5a5a5a"/>
<rect x="577.85" y="270" width="31.5" height="130.3" fill="#000"/>
<line x1="378" y1="245.2" x2="378" y2="401.1" stroke="#6e6e6e" stroke-width="2" stroke-linecap="butt"/>
<line x1="377" y1="400.5" x2="612.3" y2="400.5" stroke="#6e6e6e" stroke-width="2.3" stroke-linecap="butt"/>
<line x1="374.6" y1="245.7" x2="378" y2="245.7" stroke="#6e6e6e" stroke-width="1.3" stroke-linecap="butt"/>
<text x="368.4" y="248.9" font-size="10.1" font-weight="bold" text-anchor="end" fill="#1c1c1c" textLength="6.46" lengthAdjust="spacingAndGlyphs" stroke="#1c1c1c" stroke-width="0.25">1</text>
<line x1="374.6" y1="276.62" x2="378" y2="276.62" stroke="#6e6e6e" stroke-width="1.3" stroke-linecap="butt"/>
<text x="368.4" y="279.82" font-size="10.1" font-weight="bold" text-anchor="end" fill="#1c1c1c" textLength="16.14" lengthAdjust="spacingAndGlyphs" stroke="#1c1c1c" stroke-width="0.25">0.8</text>
<line x1="374.6" y1="307.54" x2="378" y2="307.54" stroke="#6e6e6e" stroke-width="1.3" stroke-linecap="butt"/>
<text x="368.4" y="310.74" font-size="10.1" font-weight="bold" text-anchor="end" fill="#1c1c1c" textLength="16.14" lengthAdjust="spacingAndGlyphs" stroke="#1c1c1c" stroke-width="0.25">0.6</text>
<line x1="374.6" y1="338.46" x2="378" y2="338.46" stroke="#6e6e6e" stroke-width="1.3" stroke-linecap="butt"/>
<text x="368.4" y="341.66" font-size="10.1" font-weight="bold" text-anchor="end" fill="#1c1c1c" textLength="16.14" lengthAdjust="spacingAndGlyphs" stroke="#1c1c1c" stroke-width="0.25">0.4</text>
<line x1="374.6" y1="369.38" x2="378" y2="369.38" stroke="#6e6e6e" stroke-width="1.3" stroke-linecap="butt"/>
<text x="368.4" y="372.58" font-size="10.1" font-weight="bold" text-anchor="end" fill="#1c1c1c" textLength="16.14" lengthAdjust="spacingAndGlyphs" stroke="#1c1c1c" stroke-width="0.25">0.2</text>
<line x1="374.6" y1="400.3" x2="378" y2="400.3" stroke="#6e6e6e" stroke-width="1.3" stroke-linecap="butt"/>
<text x="368.4" y="403.5" font-size="10.1" font-weight="bold" text-anchor="end" fill="#1c1c1c" textLength="6.46" lengthAdjust="spacingAndGlyphs" stroke="#1c1c1c" stroke-width="0.25">0</text>
<line x1="551.6" y1="257.4" x2="593.3" y2="257.4" stroke="#7a7a7a" stroke-width="1.78" stroke-linecap="butt"/>
<text x="571.8" y="258.3" font-size="14.2" font-weight="bold" text-anchor="middle" fill="#0c0c0c" textLength="22.9" lengthAdjust="spacingAndGlyphs" stroke="#0c0c0c" stroke-width="0.65" stroke-linejoin="round">***</text>
<text x="320.6" y="418.4" font-size="12.2" font-weight="bold" text-anchor="start" fill="#1c1c1c" textLength="49.4" lengthAdjust="spacingAndGlyphs">Sucrose</text>
<text x="395.5" y="419.8" font-size="14" font-weight="bold" text-anchor="middle" fill="#333" stroke="#333" stroke-width="0.3">-</text>
<text x="474" y="419.8" font-size="14" font-weight="bold" text-anchor="middle" fill="#333" stroke="#333" stroke-width="0.3">-</text>
<text x="551.6" y="419.8" font-size="14" font-weight="bold" text-anchor="middle" fill="#333" stroke="#333" stroke-width="0.3">-</text>
<text x="434" y="418.75" font-size="9.6" font-weight="bold" text-anchor="middle" fill="#161616" stroke="#161616" stroke-width="1.25" stroke-linejoin="round">+</text>
<text x="512.4" y="418.75" font-size="9.6" font-weight="bold" text-anchor="middle" fill="#161616" stroke="#161616" stroke-width="1.25" stroke-linejoin="round">+</text>
<text x="591.6" y="418.75" font-size="9.6" font-weight="bold" text-anchor="middle" fill="#161616" stroke="#161616" stroke-width="1.25" stroke-linejoin="round">+</text>
<line x1="385.9" y1="425.6" x2="442.8" y2="425.6" stroke="#787878" stroke-width="2.1" stroke-linecap="butt"/>
<line x1="461.8" y1="425.6" x2="518.7" y2="425.6" stroke="#787878" stroke-width="2.1" stroke-linecap="butt"/>
<line x1="545.8" y1="425.6" x2="602.7" y2="425.6" stroke="#787878" stroke-width="2.1" stroke-linecap="butt"/>
<text x="415" y="441.7" font-size="11.6" font-weight="bold" text-anchor="middle" fill="#1c1c1c" textLength="14.8" lengthAdjust="spacingAndGlyphs">5h</text>
<text x="490" y="441.7" font-size="11.6" font-weight="bold" text-anchor="middle" fill="#1c1c1c" textLength="22.2" lengthAdjust="spacingAndGlyphs">10h</text>
<text x="574.4" y="441.7" font-size="11.6" font-weight="bold" text-anchor="middle" fill="#1c1c1c" textLength="22.2" lengthAdjust="spacingAndGlyphs">15h</text>
</g>
<g>
<line x1="716.65" y1="322.9" x2="716.65" y2="335" stroke="#5e5e5e" stroke-width="1.7" stroke-linecap="butt"/>
<path d="M714.05 322.3 L719.25 322.3 L716.65 325.1 Z" fill="#5a5a5a"/>
<rect x="701.6" y="335.95" width="30.1" height="64.85" fill="#fff" stroke="#6e6e6e" stroke-width="1.9" rx="1" ry="1"/>
<line x1="756.5" y1="303.4" x2="756.5" y2="314" stroke="#5e5e5e" stroke-width="1.7" stroke-linecap="butt"/>
<path d="M753.9 302.8 L759.1 302.8 L756.5 305.6 Z" fill="#5a5a5a"/>
<rect x="740.95" y="314" width="31.1" height="86.8" fill="#000"/>
<line x1="795.95" y1="281.2" x2="795.95" y2="290.8" stroke="#5e5e5e" stroke-width="1.7" stroke-linecap="butt"/>
<path d="M793.35 280.6 L798.55 280.6 L795.95 283.4 Z" fill="#5a5a5a"/>
<rect x="781.3" y="291.75" width="29.3" height="109.05" fill="#fff" stroke="#6e6e6e" stroke-width="1.9" rx="1" ry="1"/>
<line x1="835.4" y1="333" x2="835.4" y2="346.4" stroke="#5e5e5e" stroke-width="1.7" stroke-linecap="butt"/>
<path d="M832.8 332.4 L838 332.4 L835.4 335.2 Z" fill="#5a5a5a"/>
<rect x="819.85" y="346.4" width="31.1" height="54.4" fill="#000"/>
<line x1="875.15" y1="247.8" x2="875.15" y2="271.8" stroke="#5e5e5e" stroke-width="1.7" stroke-linecap="butt"/>
<path d="M872.55 247.2 L877.75 247.2 L875.15 250 Z" fill="#5a5a5a"/>
<rect x="860.5" y="272.75" width="29.3" height="128.05" fill="#fff" stroke="#6e6e6e" stroke-width="1.9" rx="1" ry="1"/>
<line x1="914.85" y1="319.4" x2="914.85" y2="334.5" stroke="#5e5e5e" stroke-width="1.7" stroke-linecap="butt"/>
<path d="M912.25 318.8 L917.45 318.8 L914.85 321.6 Z" fill="#5a5a5a"/>
<rect x="899.05" y="334.5" width="31.6" height="66.3" fill="#000"/>
<line x1="697.3" y1="246.8" x2="697.3" y2="401.6" stroke="#6e6e6e" stroke-width="2" stroke-linecap="butt"/>
<line x1="696.3" y1="401" x2="933.6" y2="401" stroke="#6e6e6e" stroke-width="2.3" stroke-linecap="butt"/>
<line x1="693.9" y1="247.3" x2="697.3" y2="247.3" stroke="#6e6e6e" stroke-width="1.3" stroke-linecap="butt"/>
<text x="687.7" y="250.5" font-size="10.1" font-weight="bold" text-anchor="end" fill="#1c1c1c" textLength="6.46" lengthAdjust="spacingAndGlyphs" stroke="#1c1c1c" stroke-width="0.25">2</text>
<line x1="693.9" y1="262.65" x2="697.3" y2="262.65" stroke="#6e6e6e" stroke-width="1.3" stroke-linecap="butt"/>
<text x="687.7" y="265.85" font-size="10.1" font-weight="bold" text-anchor="end" fill="#1c1c1c" textLength="16.14" lengthAdjust="spacingAndGlyphs" stroke="#1c1c1c" stroke-width="0.25">1.8</text>
<line x1="693.9" y1="278" x2="697.3" y2="278" stroke="#6e6e6e" stroke-width="1.3" stroke-linecap="butt"/>
<text x="687.7" y="281.2" font-size="10.1" font-weight="bold" text-anchor="end" fill="#1c1c1c" textLength="16.14" lengthAdjust="spacingAndGlyphs" stroke="#1c1c1c" stroke-width="0.25">1.6</text>
<line x1="693.9" y1="293.35" x2="697.3" y2="293.35" stroke="#6e6e6e" stroke-width="1.3" stroke-linecap="butt"/>
<text x="687.7" y="296.55" font-size="10.1" font-weight="bold" text-anchor="end" fill="#1c1c1c" textLength="16.14" lengthAdjust="spacingAndGlyphs" stroke="#1c1c1c" stroke-width="0.25">1.4</text>
<line x1="693.9" y1="308.7" x2="697.3" y2="308.7" stroke="#6e6e6e" stroke-width="1.3" stroke-linecap="butt"/>
<text x="687.7" y="311.9" font-size="10.1" font-weight="bold" text-anchor="end" fill="#1c1c1c" textLength="16.14" lengthAdjust="spacingAndGlyphs" stroke="#1c1c1c" stroke-width="0.25">1.2</text>
<line x1="693.9" y1="324.05" x2="697.3" y2="324.05" stroke="#6e6e6e" stroke-width="1.3" stroke-linecap="butt"/>
<text x="687.7" y="327.25" font-size="10.1" font-weight="bold" text-anchor="end" fill="#1c1c1c" textLength="6.46" lengthAdjust="spacingAndGlyphs" stroke="#1c1c1c" stroke-width="0.25">1</text>
<line x1="693.9" y1="339.4" x2="697.3" y2="339.4" stroke="#6e6e6e" stroke-width="1.3" stroke-linecap="butt"/>
<text x="687.7" y="342.6" font-size="10.1" font-weight="bold" text-anchor="end" fill="#1c1c1c" textLength="16.14" lengthAdjust="spacingAndGlyphs" stroke="#1c1c1c" stroke-width="0.25">0.8</text>
<line x1="693.9" y1="354.75" x2="697.3" y2="354.75" stroke="#6e6e6e" stroke-width="1.3" stroke-linecap="butt"/>
<text x="687.7" y="357.95" font-size="10.1" font-weight="bold" text-anchor="end" fill="#1c1c1c" textLength="16.14" lengthAdjust="spacingAndGlyphs" stroke="#1c1c1c" stroke-width="0.25">0.6</text>
<line x1="693.9" y1="370.1" x2="697.3" y2="370.1" stroke="#6e6e6e" stroke-width="1.3" stroke-linecap="butt"/>
<text x="687.7" y="373.3" font-size="10.1" font-weight="bold" text-anchor="end" fill="#1c1c1c" textLength="16.14" lengthAdjust="spacingAndGlyphs" stroke="#1c1c1c" stroke-width="0.25">0.4</text>
<line x1="693.9" y1="385.45" x2="697.3" y2="385.45" stroke="#6e6e6e" stroke-width="1.3" stroke-linecap="butt"/>
<text x="687.7" y="388.65" font-size="10.1" font-weight="bold" text-anchor="end" fill="#1c1c1c" textLength="16.14" lengthAdjust="spacingAndGlyphs" stroke="#1c1c1c" stroke-width="0.25">0.2</text>
<line x1="693.9" y1="400.8" x2="697.3" y2="400.8" stroke="#6e6e6e" stroke-width="1.3" stroke-linecap="butt"/>
<text x="687.7" y="404" font-size="10.1" font-weight="bold" text-anchor="end" fill="#1c1c1c" textLength="6.46" lengthAdjust="spacingAndGlyphs" stroke="#1c1c1c" stroke-width="0.25">0</text>
<line x1="711" y1="244.7" x2="867.8" y2="244.7" stroke="#7a7a7a" stroke-width="1.78" stroke-linecap="butt"/>
<text x="785.6" y="246.3" font-size="14.2" font-weight="bold" text-anchor="middle" fill="#0c0c0c" stroke="#0c0c0c" stroke-width="0.65" stroke-linejoin="round">*</text>
<line x1="874.1" y1="244.7" x2="915.1" y2="244.7" stroke="#7a7a7a" stroke-width="1.78" stroke-linecap="butt"/>
<line x1="874.7" y1="244" x2="874.7" y2="249" stroke="#7a7a7a" stroke-width="1.4" stroke-linecap="butt"/>
<text x="895.6" y="246.3" font-size="14.2" font-weight="bold" text-anchor="middle" fill="#0c0c0c" stroke="#0c0c0c" stroke-width="0.65" stroke-linejoin="round">*</text>
<line x1="714.7" y1="277.4" x2="789.9" y2="277.4" stroke="#7a7a7a" stroke-width="2.02" stroke-linecap="butt"/>
<text x="752.7" y="278.3" font-size="14.2" font-weight="bold" text-anchor="middle" fill="#0c0c0c" stroke="#0c0c0c" stroke-width="0.65" stroke-linejoin="round">*</text>
<line x1="797" y1="277.4" x2="837.9" y2="277.4" stroke="#7a7a7a" stroke-width="1.78" stroke-linecap="butt"/>
<text x="818.5" y="279.1" font-size="14.2" font-weight="bold" text-anchor="middle" fill="#0c0c0c" textLength="14.2" lengthAdjust="spacingAndGlyphs" stroke="#0c0c0c" stroke-width="0.65" stroke-linejoin="round">**</text>
<text x="638.9" y="416.1" font-size="12.2" font-weight="bold" text-anchor="start" fill="#1c1c1c" textLength="48" lengthAdjust="spacingAndGlyphs">Cocaine</text>
<text x="714.2" y="417.2" font-size="14" font-weight="bold" text-anchor="middle" fill="#333" stroke="#333" stroke-width="0.3">-</text>
<text x="793.7" y="417.2" font-size="14" font-weight="bold" text-anchor="middle" fill="#333" stroke="#333" stroke-width="0.3">-</text>
<text x="872.3" y="417.2" font-size="14" font-weight="bold" text-anchor="middle" fill="#333" stroke="#333" stroke-width="0.3">-</text>
<text x="753.2" y="416.15" font-size="9.6" font-weight="bold" text-anchor="middle" fill="#161616" stroke="#161616" stroke-width="1.25" stroke-linejoin="round">+</text>
<text x="832.4" y="416.15" font-size="9.6" font-weight="bold" text-anchor="middle" fill="#161616" stroke="#161616" stroke-width="1.25" stroke-linejoin="round">+</text>
<text x="912.6" y="416.15" font-size="9.6" font-weight="bold" text-anchor="middle" fill="#161616" stroke="#161616" stroke-width="1.25" stroke-linejoin="round">+</text>
<line x1="705.1" y1="422.8" x2="761.5" y2="422.8" stroke="#787878" stroke-width="2.1" stroke-linecap="butt"/>
<line x1="781.8" y1="422.8" x2="837.9" y2="422.8" stroke="#787878" stroke-width="2.1" stroke-linecap="butt"/>
<line x1="866.5" y1="422.8" x2="922.7" y2="422.8" stroke="#787878" stroke-width="2.1" stroke-linecap="butt"/>
<text x="733.2" y="438.7" font-size="11.6" font-weight="bold" text-anchor="middle" fill="#1c1c1c" textLength="14.8" lengthAdjust="spacingAndGlyphs">5h</text>
<text x="809.6" y="438.7" font-size="11.6" font-weight="bold" text-anchor="middle" fill="#1c1c1c" textLength="22.2" lengthAdjust="spacingAndGlyphs">10h</text>
<text x="894.4" y="438.7" font-size="11.6" font-weight="bold" text-anchor="middle" fill="#1c1c1c" textLength="22.2" lengthAdjust="spacingAndGlyphs">15h</text>
<text transform="translate(661.6 322.65) rotate(-90)" font-size="15.3" font-weight="bold" text-anchor="middle" fill="#222" stroke="none" textLength="148.3" lengthAdjust="spacingAndGlyphs">DBP1 mRNA expression</text>
<text x="637.6" y="254" font-size="19.2" font-weight="bold" text-anchor="start" fill="#0a0a0a" stroke="#0a0a0a" stroke-width="0.3">d</text>
</g>
<g>
<line x1="1025.55" y1="343.9" x2="1025.55" y2="352.8" stroke="#5e5e5e" stroke-width="1.7" stroke-linecap="butt"/>
<path d="M1022.95 343.3 L1028.15 343.3 L1025.55 346.1 Z" fill="#5a5a5a"/>
<rect x="1010.8" y="353.75" width="29.5" height="47.55" fill="#fff" stroke="#6e6e6e" stroke-width="1.9" rx="1" ry="1"/>
<line x1="1065.4" y1="297.1" x2="1065.4" y2="318.1" stroke="#5e5e5e" stroke-width="1.7" stroke-linecap="butt"/>
<path d="M1062.8 296.5 L1068 296.5 L1065.4 299.3 Z" fill="#5a5a5a"/>
<rect x="1049.65" y="318.1" width="31.5" height="83.2" fill="#000"/>
<line x1="1104.75" y1="277.6" x2="1104.75" y2="294.6" stroke="#5e5e5e" stroke-width="1.7" stroke-linecap="butt"/>
<path d="M1102.15 277 L1107.35 277 L1104.75 279.8 Z" fill="#5a5a5a"/>
<rect x="1090" y="295.55" width="29.5" height="105.75" fill="#fff" stroke="#6e6e6e" stroke-width="1.9" rx="1" ry="1"/>
<line x1="1144.45" y1="288.7" x2="1144.45" y2="306" stroke="#5e5e5e" stroke-width="1.7" stroke-linecap="butt"/>
<path d="M1141.85 288.1 L1147.05 288.1 L1144.45 290.9 Z" fill="#5a5a5a"/>
<rect x="1128.55" y="306" width="31.8" height="95.3" fill="#000"/>
<line x1="1183.9" y1="314" x2="1183.9" y2="324.4" stroke="#5e5e5e" stroke-width="1.7" stroke-linecap="butt"/>
<path d="M1181.3 313.4 L1186.5 313.4 L1183.9 316.2 Z" fill="#5a5a5a"/>
<rect x="1168.9" y="325.35" width="30" height="75.95" fill="#fff" stroke="#6e6e6e" stroke-width="1.9" rx="1" ry="1"/>
<line x1="1223.25" y1="262.9" x2="1223.25" y2="276.4" stroke="#5e5e5e" stroke-width="1.7" stroke-linecap="butt"/>
<path d="M1220.65 262.3 L1225.85 262.3 L1223.25 265.1 Z" fill="#5a5a5a"/>
<rect x="1207.75" y="276.4" width="31" height="124.9" fill="#000"/>
<line x1="1006.2" y1="247.3" x2="1006.2" y2="402.1" stroke="#6e6e6e" stroke-width="2" stroke-linecap="butt"/>
<line x1="1005.2" y1="401.5" x2="1241.5" y2="401.5" stroke="#6e6e6e" stroke-width="2.3" stroke-linecap="butt"/>
<line x1="1002.8" y1="247.8" x2="1006.2" y2="247.8" stroke="#6e6e6e" stroke-width="1.3" stroke-linecap="butt"/>
<text x="996.6" y="251" font-size="10.1" font-weight="bold" text-anchor="end" fill="#1c1c1c" textLength="6.46" lengthAdjust="spacingAndGlyphs" stroke="#1c1c1c" stroke-width="0.25">1</text>
<line x1="1002.8" y1="278.5" x2="1006.2" y2="278.5" stroke="#6e6e6e" stroke-width="1.3" stroke-linecap="butt"/>
<text x="996.6" y="281.7" font-size="10.1" font-weight="bold" text-anchor="end" fill="#1c1c1c" textLength="16.14" lengthAdjust="spacingAndGlyphs" stroke="#1c1c1c" stroke-width="0.25">0.8</text>
<line x1="1002.8" y1="309.2" x2="1006.2" y2="309.2" stroke="#6e6e6e" stroke-width="1.3" stroke-linecap="butt"/>
<text x="996.6" y="312.4" font-size="10.1" font-weight="bold" text-anchor="end" fill="#1c1c1c" textLength="16.14" lengthAdjust="spacingAndGlyphs" stroke="#1c1c1c" stroke-width="0.25">0.6</text>
<line x1="1002.8" y1="339.9" x2="1006.2" y2="339.9" stroke="#6e6e6e" stroke-width="1.3" stroke-linecap="butt"/>
<text x="996.6" y="343.1" font-size="10.1" font-weight="bold" text-anchor="end" fill="#1c1c1c" textLength="16.14" lengthAdjust="spacingAndGlyphs" stroke="#1c1c1c" stroke-width="0.25">0.4</text>
<line x1="1002.8" y1="370.6" x2="1006.2" y2="370.6" stroke="#6e6e6e" stroke-width="1.3" stroke-linecap="butt"/>
<text x="996.6" y="373.8" font-size="10.1" font-weight="bold" text-anchor="end" fill="#1c1c1c" textLength="16.14" lengthAdjust="spacingAndGlyphs" stroke="#1c1c1c" stroke-width="0.25">0.2</text>
<line x1="1002.8" y1="401.3" x2="1006.2" y2="401.3" stroke="#6e6e6e" stroke-width="1.3" stroke-linecap="butt"/>
<text x="996.6" y="404.5" font-size="10.1" font-weight="bold" text-anchor="end" fill="#1c1c1c" textLength="6.46" lengthAdjust="spacingAndGlyphs" stroke="#1c1c1c" stroke-width="0.25">0</text>
<line x1="1021.7" y1="259.7" x2="1177.7" y2="259.7" stroke="#7a7a7a" stroke-width="2.26" stroke-linecap="butt"/>
<text x="1096.3" y="260.5" font-size="14.2" font-weight="bold" text-anchor="middle" fill="#0c0c0c" stroke="#0c0c0c" stroke-width="0.65" stroke-linejoin="round">*</text>
<line x1="1181.5" y1="259.2" x2="1223.3" y2="259.2" stroke="#7a7a7a" stroke-width="1.78" stroke-linecap="butt"/>
<text x="1203" y="261.5" font-size="14.2" font-weight="bold" text-anchor="middle" fill="#0c0c0c" textLength="14.2" lengthAdjust="spacingAndGlyphs" stroke="#0c0c0c" stroke-width="0.65" stroke-linejoin="round">**</text>
<line x1="1023.4" y1="272.3" x2="1104.9" y2="272.3" stroke="#7a7a7a" stroke-width="2.02" stroke-linecap="butt"/>
<text x="1063.1" y="273.5" font-size="14.2" font-weight="bold" text-anchor="middle" fill="#0c0c0c" stroke="#0c0c0c" stroke-width="0.65" stroke-linejoin="round">*</text>
<line x1="1024.7" y1="292.8" x2="1066.4" y2="292.8" stroke="#7a7a7a" stroke-width="1.78" stroke-linecap="butt"/>
<text x="1047" y="294.5" font-size="14.2" font-weight="bold" text-anchor="middle" fill="#0c0c0c" stroke="#0c0c0c" stroke-width="0.65" stroke-linejoin="round">*</text>
<text x="950" y="416.6" font-size="12.2" font-weight="bold" text-anchor="start" fill="#1c1c1c" textLength="48.9" lengthAdjust="spacingAndGlyphs">Sucrose</text>
<text x="1025.4" y="417.8" font-size="14" font-weight="bold" text-anchor="middle" fill="#333" stroke="#333" stroke-width="0.3">-</text>
<text x="1104.4" y="417.8" font-size="14" font-weight="bold" text-anchor="middle" fill="#333" stroke="#333" stroke-width="0.3">-</text>
<text x="1183.3" y="417.8" font-size="14" font-weight="bold" text-anchor="middle" fill="#333" stroke="#333" stroke-width="0.3">-</text>
<text x="1063.9" y="416.75" font-size="9.6" font-weight="bold" text-anchor="middle" fill="#161616" stroke="#161616" stroke-width="1.25" stroke-linejoin="round">+</text>
<text x="1143.6" y="416.75" font-size="9.6" font-weight="bold" text-anchor="middle" fill="#161616" stroke="#161616" stroke-width="1.25" stroke-linejoin="round">+</text>
<text x="1223.3" y="416.75" font-size="9.6" font-weight="bold" text-anchor="middle" fill="#161616" stroke="#161616" stroke-width="1.25" stroke-linejoin="round">+</text>
<line x1="1016.3" y1="422.8" x2="1072.8" y2="422.8" stroke="#787878" stroke-width="2.1" stroke-linecap="butt"/>
<line x1="1093" y1="422.8" x2="1149.4" y2="422.8" stroke="#787878" stroke-width="2.1" stroke-linecap="butt"/>
<line x1="1177.2" y1="422.8" x2="1233.4" y2="422.8" stroke="#787878" stroke-width="2.1" stroke-linecap="butt"/>
<text x="1044.9" y="439.3" font-size="11.6" font-weight="bold" text-anchor="middle" fill="#1c1c1c" textLength="14.8" lengthAdjust="spacingAndGlyphs">5h</text>
<text x="1120.8" y="439.3" font-size="11.6" font-weight="bold" text-anchor="middle" fill="#1c1c1c" textLength="22.2" lengthAdjust="spacingAndGlyphs">10h</text>
<text x="1205.6" y="439.3" font-size="11.6" font-weight="bold" text-anchor="middle" fill="#1c1c1c" textLength="22.2" lengthAdjust="spacingAndGlyphs">15h</text>
</g>
<g>
<line x1="84.75" y1="615.7" x2="84.75" y2="623.3" stroke="#5e5e5e" stroke-width="1.7" stroke-linecap="butt"/>
<path d="M82.15 615.1 L87.35 615.1 L84.75 617.9 Z" fill="#5a5a5a"/>
<rect x="69" y="624.25" width="31.5" height="21.75" fill="#fff" stroke="#6e6e6e" stroke-width="1.9" rx="1" ry="1"/>
<line x1="125.1" y1="601.3" x2="125.1" y2="602.5" stroke="#5e5e5e" stroke-width="1.7" stroke-linecap="butt"/>
<path d="M122.5 600.7 L127.7 600.7 L125.1 603.5 Z" fill="#5a5a5a"/>
<rect x="108.35" y="602.5" width="33.5" height="43.5" fill="#000"/>
<line x1="166.8" y1="561.8" x2="166.8" y2="572.2" stroke="#5e5e5e" stroke-width="1.7" stroke-linecap="butt"/>
<path d="M164.2 561.2 L169.4 561.2 L166.8 564 Z" fill="#5a5a5a"/>
<rect x="151.2" y="573.15" width="31.2" height="72.85" fill="#fff" stroke="#6e6e6e" stroke-width="1.9" rx="1" ry="1"/>
<line x1="207.85" y1="556.2" x2="207.85" y2="571.4" stroke="#5e5e5e" stroke-width="1.7" stroke-linecap="butt"/>
<path d="M205.25 555.6 L210.45 555.6 L207.85 558.4 Z" fill="#5a5a5a"/>
<rect x="191.35" y="571.4" width="33" height="74.6" fill="#000"/>
<line x1="249.05" y1="507.7" x2="249.05" y2="524.6" stroke="#5e5e5e" stroke-width="1.7" stroke-linecap="butt"/>
<path d="M246.45 507.1 L251.65 507.1 L249.05 509.9 Z" fill="#5a5a5a"/>
<rect x="233.4" y="525.55" width="31.3" height="120.45" fill="#fff" stroke="#6e6e6e" stroke-width="1.9" rx="1" ry="1"/>
<line x1="290.05" y1="576.5" x2="290.05" y2="588.4" stroke="#5e5e5e" stroke-width="1.7" stroke-linecap="butt"/>
<path d="M287.45 575.9 L292.65 575.9 L290.05 578.7 Z" fill="#5a5a5a"/>
<rect x="273.55" y="588.4" width="33" height="57.6" fill="#000"/>
<line x1="63.4" y1="492" x2="63.4" y2="646.8" stroke="#6e6e6e" stroke-width="2" stroke-linecap="butt"/>
<line x1="62.4" y1="646.2" x2="309.9" y2="646.2" stroke="#6e6e6e" stroke-width="2.3" stroke-linecap="butt"/>
<line x1="60" y1="492.5" x2="63.4" y2="492.5" stroke="#6e6e6e" stroke-width="1.3" stroke-linecap="butt"/>
<text x="53.8" y="495.7" font-size="10.1" font-weight="bold" text-anchor="end" fill="#1c1c1c" textLength="6.46" lengthAdjust="spacingAndGlyphs" stroke="#1c1c1c" stroke-width="0.25">5</text>
<line x1="60" y1="523.2" x2="63.4" y2="523.2" stroke="#6e6e6e" stroke-width="1.3" stroke-linecap="butt"/>
<text x="53.8" y="526.4" font-size="10.1" font-weight="bold" text-anchor="end" fill="#1c1c1c" textLength="6.46" lengthAdjust="spacingAndGlyphs" stroke="#1c1c1c" stroke-width="0.25">4</text>
<line x1="60" y1="553.9" x2="63.4" y2="553.9" stroke="#6e6e6e" stroke-width="1.3" stroke-linecap="butt"/>
<text x="53.8" y="557.1" font-size="10.1" font-weight="bold" text-anchor="end" fill="#1c1c1c" textLength="6.46" lengthAdjust="spacingAndGlyphs" stroke="#1c1c1c" stroke-width="0.25">3</text>
<line x1="60" y1="584.6" x2="63.4" y2="584.6" stroke="#6e6e6e" stroke-width="1.3" stroke-linecap="butt"/>
<text x="53.8" y="587.8" font-size="10.1" font-weight="bold" text-anchor="end" fill="#1c1c1c" textLength="6.46" lengthAdjust="spacingAndGlyphs" stroke="#1c1c1c" stroke-width="0.25">2</text>
<line x1="60" y1="615.3" x2="63.4" y2="615.3" stroke="#6e6e6e" stroke-width="1.3" stroke-linecap="butt"/>
<text x="53.8" y="618.5" font-size="10.1" font-weight="bold" text-anchor="end" fill="#1c1c1c" textLength="6.46" lengthAdjust="spacingAndGlyphs" stroke="#1c1c1c" stroke-width="0.25">1</text>
<line x1="60" y1="646" x2="63.4" y2="646" stroke="#6e6e6e" stroke-width="1.3" stroke-linecap="butt"/>
<text x="53.8" y="649.2" font-size="10.1" font-weight="bold" text-anchor="end" fill="#1c1c1c" textLength="6.46" lengthAdjust="spacingAndGlyphs" stroke="#1c1c1c" stroke-width="0.25">0</text>
<line x1="84.2" y1="504.4" x2="241.6" y2="504.4" stroke="#7a7a7a" stroke-width="2.26" stroke-linecap="butt"/>
<text x="163.2" y="505.7" font-size="14.2" font-weight="bold" text-anchor="middle" fill="#0c0c0c" textLength="14.2" lengthAdjust="spacingAndGlyphs" stroke="#0c0c0c" stroke-width="0.65" stroke-linejoin="round">**</text>
<line x1="255.5" y1="503.9" x2="297.2" y2="503.9" stroke="#7a7a7a" stroke-width="1.78" stroke-linecap="butt"/>
<text x="278.3" y="505.7" font-size="14.2" font-weight="bold" text-anchor="middle" fill="#0c0c0c" stroke="#0c0c0c" stroke-width="0.65" stroke-linejoin="round">*</text>
<line x1="87.3" y1="557" x2="161.9" y2="557" stroke="#7a7a7a" stroke-width="2.02" stroke-linecap="butt"/>
<text x="124.7" y="558.3" font-size="14.2" font-weight="bold" text-anchor="middle" fill="#0c0c0c" stroke="#0c0c0c" stroke-width="0.65" stroke-linejoin="round">*</text>
<text x="19.7" y="661.3" font-size="12.2" font-weight="bold" text-anchor="start" fill="#1c1c1c" textLength="48.6" lengthAdjust="spacingAndGlyphs">Cocaine</text>
<text x="94.9" y="662.6" font-size="14" font-weight="bold" text-anchor="middle" fill="#333" stroke="#333" stroke-width="0.3">-</text>
<text x="173.8" y="662.6" font-size="14" font-weight="bold" text-anchor="middle" fill="#333" stroke="#333" stroke-width="0.3">-</text>
<text x="252.2" y="662.6" font-size="14" font-weight="bold" text-anchor="middle" fill="#333" stroke="#333" stroke-width="0.3">-</text>
<text x="134.1" y="661.55" font-size="9.6" font-weight="bold" text-anchor="middle" fill="#161616" stroke="#161616" stroke-width="1.25" stroke-linejoin="round">+</text>
<text x="213.3" y="661.55" font-size="9.6" font-weight="bold" text-anchor="middle" fill="#161616" stroke="#161616" stroke-width="1.25" stroke-linejoin="round">+</text>
<text x="292.7" y="661.55" font-size="9.6" font-weight="bold" text-anchor="middle" fill="#161616" stroke="#161616" stroke-width="1.25" stroke-linejoin="round">+</text>
<line x1="86" y1="667.6" x2="142.2" y2="667.6" stroke="#787878" stroke-width="2.1" stroke-linecap="butt"/>
<line x1="161.9" y1="667.6" x2="218.8" y2="667.6" stroke="#787878" stroke-width="2.1" stroke-linecap="butt"/>
<line x1="246.6" y1="667.6" x2="302.8" y2="667.6" stroke="#787878" stroke-width="2.1" stroke-linecap="butt"/>
<text x="113.8" y="684.3" font-size="11.6" font-weight="bold" text-anchor="middle" fill="#1c1c1c" textLength="14.8" lengthAdjust="spacingAndGlyphs">5h</text>
<text x="191" y="684.3" font-size="11.6" font-weight="bold" text-anchor="middle" fill="#1c1c1c" textLength="22.2" lengthAdjust="spacingAndGlyphs">10h</text>
<text x="275.7" y="684.3" font-size="11.6" font-weight="bold" text-anchor="middle" fill="#1c1c1c" textLength="22.2" lengthAdjust="spacingAndGlyphs">15h</text>
<text transform="translate(33.2 565.1) rotate(-90)" font-size="15.3" font-weight="bold" text-anchor="middle" fill="#222" stroke="none" textLength="146.2" lengthAdjust="spacingAndGlyphs">CRY1 mRNA expression</text>
<text x="14.5" y="490.6" font-size="19.2" font-weight="bold" text-anchor="start" fill="#0a0a0a" stroke="#0a0a0a" stroke-width="0.3">e</text>
</g>
<g>
<line x1="402.75" y1="549" x2="402.75" y2="560.4" stroke="#5e5e5e" stroke-width="1.7" stroke-linecap="butt"/>
<path d="M400.15 548.4 L405.35 548.4 L402.75 551.2 Z" fill="#5a5a5a"/>
<rect x="388" y="561.35" width="29.5" height="85.05" fill="#fff" stroke="#6e6e6e" stroke-width="1.9" rx="1" ry="1"/>
<line x1="442.2" y1="563" x2="442.2" y2="571.3" stroke="#5e5e5e" stroke-width="1.7" stroke-linecap="butt"/>
<path d="M439.6 562.4 L444.8 562.4 L442.2 565.2 Z" fill="#5a5a5a"/>
<rect x="426.55" y="571.3" width="31.3" height="75.1" fill="#000"/>
<line x1="481.65" y1="510.6" x2="481.65" y2="525.8" stroke="#5e5e5e" stroke-width="1.7" stroke-linecap="butt"/>
<path d="M479.05 510 L484.25 510 L481.65 512.8 Z" fill="#5a5a5a"/>
<rect x="466.9" y="526.75" width="29.5" height="119.65" fill="#fff" stroke="#6e6e6e" stroke-width="1.9" rx="1" ry="1"/>
<line x1="520.95" y1="536.7" x2="520.95" y2="539.7" stroke="#5e5e5e" stroke-width="1.7" stroke-linecap="butt"/>
<path d="M518.35 536.1 L523.55 536.1 L520.95 538.9 Z" fill="#5a5a5a"/>
<rect x="505.15" y="539.7" width="31.6" height="106.7" fill="#000"/>
<line x1="560.05" y1="511.9" x2="560.05" y2="527.8" stroke="#5e5e5e" stroke-width="1.7" stroke-linecap="butt"/>
<path d="M557.45 511.3 L562.65 511.3 L560.05 514.1 Z" fill="#5a5a5a"/>
<rect x="545.3" y="528.75" width="29.5" height="117.65" fill="#fff" stroke="#6e6e6e" stroke-width="1.9" rx="1" ry="1"/>
<line x1="600.15" y1="554.1" x2="600.15" y2="567" stroke="#5e5e5e" stroke-width="1.7" stroke-linecap="butt"/>
<path d="M597.55 553.5 L602.75 553.5 L600.15 556.3 Z" fill="#5a5a5a"/>
<rect x="584.65" y="567" width="31" height="79.4" fill="#000"/>
<line x1="381.9" y1="492.4" x2="381.9" y2="647.2" stroke="#6e6e6e" stroke-width="2" stroke-linecap="butt"/>
<line x1="380.9" y1="646.6" x2="619.1" y2="646.6" stroke="#6e6e6e" stroke-width="2.3" stroke-linecap="butt"/>
<line x1="378.5" y1="492.9" x2="381.9" y2="492.9" stroke="#6e6e6e" stroke-width="1.3" stroke-linecap="butt"/>
<text x="373.4" y="496.1" font-size="10.1" font-weight="bold" text-anchor="end" fill="#1c1c1c" textLength="6.46" lengthAdjust="spacingAndGlyphs" stroke="#1c1c1c" stroke-width="0.25">2</text>
<line x1="378.5" y1="531.27" x2="381.9" y2="531.27" stroke="#6e6e6e" stroke-width="1.3" stroke-linecap="butt"/>
<text x="373.4" y="534.48" font-size="10.1" font-weight="bold" text-anchor="end" fill="#1c1c1c" textLength="16.14" lengthAdjust="spacingAndGlyphs" stroke="#1c1c1c" stroke-width="0.25">1.5</text>
<line x1="378.5" y1="569.65" x2="381.9" y2="569.65" stroke="#6e6e6e" stroke-width="1.3" stroke-linecap="butt"/>
<text x="373.4" y="572.85" font-size="10.1" font-weight="bold" text-anchor="end" fill="#1c1c1c" textLength="6.46" lengthAdjust="spacingAndGlyphs" stroke="#1c1c1c" stroke-width="0.25">1</text>
<line x1="378.5" y1="608.02" x2="381.9" y2="608.02" stroke="#6e6e6e" stroke-width="1.3" stroke-linecap="butt"/>
<text x="373.4" y="611.23" font-size="10.1" font-weight="bold" text-anchor="end" fill="#1c1c1c" textLength="16.14" lengthAdjust="spacingAndGlyphs" stroke="#1c1c1c" stroke-width="0.25">0.5</text>
<line x1="378.5" y1="646.4" x2="381.9" y2="646.4" stroke="#6e6e6e" stroke-width="1.3" stroke-linecap="butt"/>
<text x="373.4" y="649.6" font-size="10.1" font-weight="bold" text-anchor="end" fill="#1c1c1c" textLength="6.46" lengthAdjust="spacingAndGlyphs" stroke="#1c1c1c" stroke-width="0.25">0</text>
<line x1="400.6" y1="495.4" x2="557.9" y2="495.4" stroke="#7a7a7a" stroke-width="2.02" stroke-linecap="butt"/>
<text x="475.7" y="496.3" font-size="14.2" font-weight="bold" text-anchor="middle" fill="#0c0c0c" stroke="#0c0c0c" stroke-width="0.65" stroke-linejoin="round">*</text>
<line x1="400.6" y1="507.3" x2="475.7" y2="507.3" stroke="#7a7a7a" stroke-width="2.02" stroke-linecap="butt"/>
<text x="438.5" y="508.3" font-size="14.2" font-weight="bold" text-anchor="middle" fill="#0c0c0c" stroke="#0c0c0c" stroke-width="0.65" stroke-linejoin="round">*</text>
<line x1="559.2" y1="508.1" x2="600.2" y2="508.1" stroke="#7a7a7a" stroke-width="1.78" stroke-linecap="butt"/>
<text x="581.2" y="509.9" font-size="14.2" font-weight="bold" text-anchor="middle" fill="#0c0c0c" stroke="#0c0c0c" stroke-width="0.65" stroke-linejoin="round">*</text>
<text x="327.7" y="664.2" font-size="12.2" font-weight="bold" text-anchor="start" fill="#1c1c1c" textLength="49.3" lengthAdjust="spacingAndGlyphs">Sucrose</text>
<text x="403.1" y="665.6" font-size="14" font-weight="bold" text-anchor="middle" fill="#333" stroke="#333" stroke-width="0.3">-</text>
<text x="482" y="665.6" font-size="14" font-weight="bold" text-anchor="middle" fill="#333" stroke="#333" stroke-width="0.3">-</text>
<text x="560.4" y="665.6" font-size="14" font-weight="bold" text-anchor="middle" fill="#333" stroke="#333" stroke-width="0.3">-</text>
<text x="441.5" y="664.55" font-size="9.6" font-weight="bold" text-anchor="middle" fill="#161616" stroke="#161616" stroke-width="1.25" stroke-linejoin="round">+</text>
<text x="520.7" y="664.55" font-size="9.6" font-weight="bold" text-anchor="middle" fill="#161616" stroke="#161616" stroke-width="1.25" stroke-linejoin="round">+</text>
<text x="600.9" y="664.55" font-size="9.6" font-weight="bold" text-anchor="middle" fill="#161616" stroke="#161616" stroke-width="1.25" stroke-linejoin="round">+</text>
<line x1="394" y1="670.5" x2="450.4" y2="670.5" stroke="#787878" stroke-width="2.1" stroke-linecap="butt"/>
<line x1="469.9" y1="670.5" x2="526.8" y2="670.5" stroke="#787878" stroke-width="2.1" stroke-linecap="butt"/>
<line x1="554.1" y1="670.5" x2="611" y2="670.5" stroke="#787878" stroke-width="2.1" stroke-linecap="butt"/>
<text x="422.6" y="686.9" font-size="11.6" font-weight="bold" text-anchor="middle" fill="#1c1c1c" textLength="14.8" lengthAdjust="spacingAndGlyphs">5h</text>
<text x="498.5" y="686.9" font-size="11.6" font-weight="bold" text-anchor="middle" fill="#1c1c1c" textLength="22.2" lengthAdjust="spacingAndGlyphs">10h</text>
<text x="583.2" y="686.9" font-size="11.6" font-weight="bold" text-anchor="middle" fill="#1c1c1c" textLength="22.2" lengthAdjust="spacingAndGlyphs">15h</text>
</g>
<g>
<line x1="717.65" y1="556" x2="717.65" y2="560.4" stroke="#5e5e5e" stroke-width="1.7" stroke-linecap="butt"/>
<path d="M715.05 555.4 L720.25 555.4 L717.65 558.2 Z" fill="#5a5a5a"/>
<rect x="702.1" y="561.35" width="31.1" height="86.65" fill="#fff" stroke="#6e6e6e" stroke-width="1.9" rx="1" ry="1"/>
<line x1="757.35" y1="568.8" x2="757.35" y2="576.9" stroke="#5e5e5e" stroke-width="1.7" stroke-linecap="butt"/>
<path d="M754.75 568.2 L759.95 568.2 L757.35 571 Z" fill="#5a5a5a"/>
<rect x="741.45" y="576.9" width="31.8" height="71.1" fill="#000"/>
<line x1="797.6" y1="547.3" x2="797.6" y2="554.9" stroke="#5e5e5e" stroke-width="1.7" stroke-linecap="butt"/>
<path d="M795 546.7 L800.2 546.7 L797.6 549.5 Z" fill="#5a5a5a"/>
<rect x="782.6" y="555.85" width="30" height="92.15" fill="#fff" stroke="#6e6e6e" stroke-width="1.9" rx="1" ry="1"/>
<line x1="837.85" y1="528.8" x2="837.85" y2="545.3" stroke="#5e5e5e" stroke-width="1.7" stroke-linecap="butt"/>
<path d="M835.25 528.2 L840.45 528.2 L837.85 531 Z" fill="#5a5a5a"/>
<rect x="821.95" y="545.3" width="31.8" height="102.7" fill="#000"/>
<line x1="878.3" y1="524.5" x2="878.3" y2="531.3" stroke="#5e5e5e" stroke-width="1.7" stroke-linecap="butt"/>
<path d="M875.7 523.9 L880.9 523.9 L878.3 526.7 Z" fill="#5a5a5a"/>
<rect x="863.5" y="532.25" width="29.6" height="115.75" fill="#fff" stroke="#6e6e6e" stroke-width="1.9" rx="1" ry="1"/>
<line x1="918.15" y1="512.6" x2="918.15" y2="528.3" stroke="#5e5e5e" stroke-width="1.7" stroke-linecap="butt"/>
<path d="M915.55 512 L920.75 512 L918.15 514.8 Z" fill="#5a5a5a"/>
<rect x="902.35" y="528.3" width="31.6" height="119.7" fill="#000"/>
<line x1="697.3" y1="494.2" x2="697.3" y2="648.8" stroke="#6e6e6e" stroke-width="2" stroke-linecap="butt"/>
<line x1="696.3" y1="648.2" x2="937.4" y2="648.2" stroke="#6e6e6e" stroke-width="2.3" stroke-linecap="butt"/>
<line x1="693.9" y1="494.7" x2="697.3" y2="494.7" stroke="#6e6e6e" stroke-width="1.3" stroke-linecap="butt"/>
<text x="687.7" y="497.9" font-size="10.1" font-weight="bold" text-anchor="end" fill="#1c1c1c" textLength="16.14" lengthAdjust="spacingAndGlyphs" stroke="#1c1c1c" stroke-width="0.25">1.6</text>
<line x1="693.9" y1="513.86" x2="697.3" y2="513.86" stroke="#6e6e6e" stroke-width="1.3" stroke-linecap="butt"/>
<text x="687.7" y="517.06" font-size="10.1" font-weight="bold" text-anchor="end" fill="#1c1c1c" textLength="16.14" lengthAdjust="spacingAndGlyphs" stroke="#1c1c1c" stroke-width="0.25">1.4</text>
<line x1="693.9" y1="533.02" x2="697.3" y2="533.02" stroke="#6e6e6e" stroke-width="1.3" stroke-linecap="butt"/>
<text x="687.7" y="536.23" font-size="10.1" font-weight="bold" text-anchor="end" fill="#1c1c1c" textLength="16.14" lengthAdjust="spacingAndGlyphs" stroke="#1c1c1c" stroke-width="0.25">1.2</text>
<line x1="693.9" y1="552.19" x2="697.3" y2="552.19" stroke="#6e6e6e" stroke-width="1.3" stroke-linecap="butt"/>
<text x="687.7" y="555.39" font-size="10.1" font-weight="bold" text-anchor="end" fill="#1c1c1c" textLength="6.46" lengthAdjust="spacingAndGlyphs" stroke="#1c1c1c" stroke-width="0.25">1</text>
<line x1="693.9" y1="571.35" x2="697.3" y2="571.35" stroke="#6e6e6e" stroke-width="1.3" stroke-linecap="butt"/>
<text x="687.7" y="574.55" font-size="10.1" font-weight="bold" text-anchor="end" fill="#1c1c1c" textLength="16.14" lengthAdjust="spacingAndGlyphs" stroke="#1c1c1c" stroke-width="0.25">0.8</text>
<line x1="693.9" y1="590.51" x2="697.3" y2="590.51" stroke="#6e6e6e" stroke-width="1.3" stroke-linecap="butt"/>
<text x="687.7" y="593.71" font-size="10.1" font-weight="bold" text-anchor="end" fill="#1c1c1c" textLength="16.14" lengthAdjust="spacingAndGlyphs" stroke="#1c1c1c" stroke-width="0.25">0.6</text>
<line x1="693.9" y1="609.67" x2="697.3" y2="609.67" stroke="#6e6e6e" stroke-width="1.3" stroke-linecap="butt"/>
<text x="687.7" y="612.88" font-size="10.1" font-weight="bold" text-anchor="end" fill="#1c1c1c" textLength="16.14" lengthAdjust="spacingAndGlyphs" stroke="#1c1c1c" stroke-width="0.25">0.4</text>
<line x1="693.9" y1="628.84" x2="697.3" y2="628.84" stroke="#6e6e6e" stroke-width="1.3" stroke-linecap="butt"/>
<text x="687.7" y="632.04" font-size="10.1" font-weight="bold" text-anchor="end" fill="#1c1c1c" textLength="16.14" lengthAdjust="spacingAndGlyphs" stroke="#1c1c1c" stroke-width="0.25">0.2</text>
<line x1="693.9" y1="648" x2="697.3" y2="648" stroke="#6e6e6e" stroke-width="1.3" stroke-linecap="butt"/>
<text x="687.7" y="651.2" font-size="10.1" font-weight="bold" text-anchor="end" fill="#1c1c1c" textLength="6.46" lengthAdjust="spacingAndGlyphs" stroke="#1c1c1c" stroke-width="0.25">0</text>
<line x1="717.8" y1="518.9" x2="875.4" y2="518.9" stroke="#7a7a7a" stroke-width="2.02" stroke-linecap="butt"/>
<text x="797" y="520.5" font-size="14.2" font-weight="bold" text-anchor="middle" fill="#0c0c0c" textLength="14.2" lengthAdjust="spacingAndGlyphs" stroke="#0c0c0c" stroke-width="0.65" stroke-linejoin="round">**</text>
<line x1="719.8" y1="552.8" x2="761.5" y2="552.8" stroke="#7a7a7a" stroke-width="1.78" stroke-linecap="butt"/>
<text x="742.6" y="554.7" font-size="14.2" font-weight="bold" text-anchor="middle" fill="#0c0c0c" stroke="#0c0c0c" stroke-width="0.65" stroke-linejoin="round">*</text>
<text x="638.1" y="666.8" font-size="12.2" font-weight="bold" text-anchor="start" fill="#1c1c1c" textLength="48.8" lengthAdjust="spacingAndGlyphs">Cocaine</text>
<text x="715.3" y="668" font-size="14" font-weight="bold" text-anchor="middle" fill="#333" stroke="#333" stroke-width="0.3">-</text>
<text x="794.9" y="668" font-size="14" font-weight="bold" text-anchor="middle" fill="#333" stroke="#333" stroke-width="0.3">-</text>
<text x="874.9" y="668" font-size="14" font-weight="bold" text-anchor="middle" fill="#333" stroke="#333" stroke-width="0.3">-</text>
<text x="754" y="666.95" font-size="9.6" font-weight="bold" text-anchor="middle" fill="#161616" stroke="#161616" stroke-width="1.25" stroke-linejoin="round">+</text>
<text x="834.9" y="666.95" font-size="9.6" font-weight="bold" text-anchor="middle" fill="#161616" stroke="#161616" stroke-width="1.25" stroke-linejoin="round">+</text>
<text x="915.9" y="666.95" font-size="9.6" font-weight="bold" text-anchor="middle" fill="#161616" stroke="#161616" stroke-width="1.25" stroke-linejoin="round">+</text>
<line x1="705.1" y1="673.8" x2="762.8" y2="673.8" stroke="#787878" stroke-width="2.1" stroke-linecap="butt"/>
<line x1="783" y1="673.8" x2="840.5" y2="673.8" stroke="#787878" stroke-width="2.1" stroke-linecap="butt"/>
<line x1="869.1" y1="673.8" x2="926.5" y2="673.8" stroke="#787878" stroke-width="2.1" stroke-linecap="butt"/>
<text transform="translate(660.2 573.5) rotate(-90)" font-size="15.3" font-weight="bold" text-anchor="middle" fill="#222" stroke="none" textLength="147" lengthAdjust="spacingAndGlyphs">CRY2 mRNA expression</text>
<text x="638.2" y="499.8" font-size="19.2" font-weight="bold" text-anchor="start" fill="#0a0a0a" stroke="#0a0a0a" stroke-width="0.3">f</text>
</g>
<g>
<line x1="1032.9" y1="511.9" x2="1032.9" y2="525" stroke="#5e5e5e" stroke-width="1.7" stroke-linecap="butt"/>
<path d="M1030.3 511.3 L1035.5 511.3 L1032.9 514.1 Z" fill="#5a5a5a"/>
<rect x="1017.9" y="525.95" width="30" height="122.05" fill="#fff" stroke="#6e6e6e" stroke-width="1.9" rx="1" ry="1"/>
<line x1="1073.15" y1="524.5" x2="1073.15" y2="530.3" stroke="#5e5e5e" stroke-width="1.7" stroke-linecap="butt"/>
<path d="M1070.55 523.9 L1075.75 523.9 L1073.15 526.7 Z" fill="#5a5a5a"/>
<rect x="1057.25" y="530.3" width="31.8" height="117.7" fill="#000"/>
<line x1="1113.2" y1="515.7" x2="1113.2" y2="521.2" stroke="#5e5e5e" stroke-width="1.7" stroke-linecap="butt"/>
<path d="M1110.6 515.1 L1115.8 515.1 L1113.2 517.9 Z" fill="#5a5a5a"/>
<rect x="1098.3" y="522.15" width="29.8" height="125.85" fill="#fff" stroke="#6e6e6e" stroke-width="1.9" rx="1" ry="1"/>
<line x1="1153.35" y1="527.5" x2="1153.35" y2="537.2" stroke="#5e5e5e" stroke-width="1.7" stroke-linecap="butt"/>
<path d="M1150.75 526.9 L1155.95 526.9 L1153.35 529.7 Z" fill="#5a5a5a"/>
<rect x="1137.45" y="537.2" width="31.8" height="110.8" fill="#000"/>
<line x1="1193.55" y1="540.2" x2="1193.55" y2="559.2" stroke="#5e5e5e" stroke-width="1.7" stroke-linecap="butt"/>
<path d="M1190.95 539.6 L1196.15 539.6 L1193.55 542.4 Z" fill="#5a5a5a"/>
<rect x="1178.5" y="560.15" width="30.1" height="87.85" fill="#fff" stroke="#6e6e6e" stroke-width="1.9" rx="1" ry="1"/>
<line x1="1233.4" y1="538.4" x2="1233.4" y2="559.4" stroke="#5e5e5e" stroke-width="1.7" stroke-linecap="butt"/>
<path d="M1230.8 537.8 L1236 537.8 L1233.4 540.6 Z" fill="#5a5a5a"/>
<rect x="1217.35" y="559.4" width="32.1" height="88.6" fill="#000"/>
<line x1="1013" y1="494.2" x2="1013" y2="648.8" stroke="#6e6e6e" stroke-width="2" stroke-linecap="butt"/>
<line x1="1012" y1="648.2" x2="1252.4" y2="648.2" stroke="#6e6e6e" stroke-width="2.3" stroke-linecap="butt"/>
<line x1="1009.6" y1="494.7" x2="1013" y2="494.7" stroke="#6e6e6e" stroke-width="1.3" stroke-linecap="butt"/>
<text x="1003.4" y="497.9" font-size="10.1" font-weight="bold" text-anchor="end" fill="#1c1c1c" textLength="16.14" lengthAdjust="spacingAndGlyphs" stroke="#1c1c1c" stroke-width="0.25">1.8</text>
<line x1="1009.6" y1="511.73" x2="1013" y2="511.73" stroke="#6e6e6e" stroke-width="1.3" stroke-linecap="butt"/>
<text x="1003.4" y="514.93" font-size="10.1" font-weight="bold" text-anchor="end" fill="#1c1c1c" textLength="16.14" lengthAdjust="spacingAndGlyphs" stroke="#1c1c1c" stroke-width="0.25">1.6</text>
<line x1="1009.6" y1="528.77" x2="1013" y2="528.77" stroke="#6e6e6e" stroke-width="1.3" stroke-linecap="butt"/>
<text x="1003.4" y="531.97" font-size="10.1" font-weight="bold" text-anchor="end" fill="#1c1c1c" textLength="16.14" lengthAdjust="spacingAndGlyphs" stroke="#1c1c1c" stroke-width="0.25">1.4</text>
<line x1="1009.6" y1="545.8" x2="1013" y2="545.8" stroke="#6e6e6e" stroke-width="1.3" stroke-linecap="butt"/>
<text x="1003.4" y="549" font-size="10.1" font-weight="bold" text-anchor="end" fill="#1c1c1c" textLength="16.14" lengthAdjust="spacingAndGlyphs" stroke="#1c1c1c" stroke-width="0.25">1.2</text>
<line x1="1009.6" y1="562.83" x2="1013" y2="562.83" stroke="#6e6e6e" stroke-width="1.3" stroke-linecap="butt"/>
<text x="1003.4" y="566.03" font-size="10.1" font-weight="bold" text-anchor="end" fill="#1c1c1c" textLength="6.46" lengthAdjust="spacingAndGlyphs" stroke="#1c1c1c" stroke-width="0.25">1</text>
<line x1="1009.6" y1="579.87" x2="1013" y2="579.87" stroke="#6e6e6e" stroke-width="1.3" stroke-linecap="butt"/>
<text x="1003.4" y="583.07" font-size="10.1" font-weight="bold" text-anchor="end" fill="#1c1c1c" textLength="16.14" lengthAdjust="spacingAndGlyphs" stroke="#1c1c1c" stroke-width="0.25">0.8</text>
<line x1="1009.6" y1="596.9" x2="1013" y2="596.9" stroke="#6e6e6e" stroke-width="1.3" stroke-linecap="butt"/>
<text x="1003.4" y="600.1" font-size="10.1" font-weight="bold" text-anchor="end" fill="#1c1c1c" textLength="16.14" lengthAdjust="spacingAndGlyphs" stroke="#1c1c1c" stroke-width="0.25">0.6</text>
<line x1="1009.6" y1="613.93" x2="1013" y2="613.93" stroke="#6e6e6e" stroke-width="1.3" stroke-linecap="butt"/>
<text x="1003.4" y="617.13" font-size="10.1" font-weight="bold" text-anchor="end" fill="#1c1c1c" textLength="16.14" lengthAdjust="spacingAndGlyphs" stroke="#1c1c1c" stroke-width="0.25">0.4</text>
<line x1="1009.6" y1="630.97" x2="1013" y2="630.97" stroke="#6e6e6e" stroke-width="1.3" stroke-linecap="butt"/>
<text x="1003.4" y="634.17" font-size="10.1" font-weight="bold" text-anchor="end" fill="#1c1c1c" textLength="16.14" lengthAdjust="spacingAndGlyphs" stroke="#1c1c1c" stroke-width="0.25">0.2</text>
<line x1="1009.6" y1="648" x2="1013" y2="648" stroke="#6e6e6e" stroke-width="1.3" stroke-linecap="butt"/>
<text x="1003.4" y="651.2" font-size="10.1" font-weight="bold" text-anchor="end" fill="#1c1c1c" textLength="6.46" lengthAdjust="spacingAndGlyphs" stroke="#1c1c1c" stroke-width="0.25">0</text>
<line x1="1032.8" y1="505.5" x2="1191.7" y2="505.5" stroke="#7a7a7a" stroke-width="2.02" stroke-linecap="butt"/>
<text x="1108.7" y="506.5" font-size="14.2" font-weight="bold" text-anchor="middle" fill="#0c0c0c" stroke="#0c0c0c" stroke-width="0.65" stroke-linejoin="round">*</text>
<text x="955.6" y="668.8" font-size="12.2" font-weight="bold" text-anchor="start" fill="#1c1c1c" textLength="50.1" lengthAdjust="spacingAndGlyphs">Sucrose</text>
<text x="1032.8" y="670.2" font-size="14" font-weight="bold" text-anchor="middle" fill="#333" stroke="#333" stroke-width="0.3">-</text>
<text x="1113.2" y="670.2" font-size="14" font-weight="bold" text-anchor="middle" fill="#333" stroke="#333" stroke-width="0.3">-</text>
<text x="1193.4" y="670.2" font-size="14" font-weight="bold" text-anchor="middle" fill="#333" stroke="#333" stroke-width="0.3">-</text>
<text x="1072.8" y="669.15" font-size="9.6" font-weight="bold" text-anchor="middle" fill="#161616" stroke="#161616" stroke-width="1.25" stroke-linejoin="round">+</text>
<text x="1153" y="669.15" font-size="9.6" font-weight="bold" text-anchor="middle" fill="#161616" stroke="#161616" stroke-width="1.25" stroke-linejoin="round">+</text>
<text x="1234.2" y="669.15" font-size="9.6" font-weight="bold" text-anchor="middle" fill="#161616" stroke="#161616" stroke-width="1.25" stroke-linejoin="round">+</text>
<line x1="1023.4" y1="673.8" x2="1080.3" y2="673.8" stroke="#ececec" stroke-width="2.1" stroke-linecap="butt"/>
<line x1="1100.6" y1="673.8" x2="1158.8" y2="673.8" stroke="#ececec" stroke-width="2.1" stroke-linecap="butt"/>
<line x1="1186.6" y1="673.8" x2="1244.8" y2="673.8" stroke="#ececec" stroke-width="2.1" stroke-linecap="butt"/>
</g>
<g>
<line x1="83.35" y1="780.4" x2="83.35" y2="786.8" stroke="#5e5e5e" stroke-width="1.7" stroke-linecap="butt"/>
<path d="M80.75 779.8 L85.95 779.8 L83.35 782.6 Z" fill="#5a5a5a"/>
<rect x="68.3" y="787.75" width="30.1" height="70.05" fill="#fff" stroke="#6e6e6e" stroke-width="1.9" rx="1" ry="1"/>
<line x1="122.35" y1="764.7" x2="122.35" y2="766.8" stroke="#5e5e5e" stroke-width="1.7" stroke-linecap="butt"/>
<path d="M119.75 764.1 L124.95 764.1 L122.35 766.9 Z" fill="#5a5a5a"/>
<rect x="106.45" y="766.8" width="31.8" height="91" fill="#000"/>
<line x1="161.55" y1="723" x2="161.55" y2="731.4" stroke="#5e5e5e" stroke-width="1.7" stroke-linecap="butt"/>
<path d="M158.95 722.4 L164.15 722.4 L161.55 725.2 Z" fill="#5a5a5a"/>
<rect x="146.8" y="732.35" width="29.5" height="125.45" fill="#fff" stroke="#6e6e6e" stroke-width="1.9" rx="1" ry="1"/>
<line x1="200.85" y1="726.3" x2="200.85" y2="754.6" stroke="#5e5e5e" stroke-width="1.7" stroke-linecap="butt"/>
<path d="M198.25 725.7 L203.45 725.7 L200.85 728.5 Z" fill="#5a5a5a"/>
<rect x="185.05" y="754.6" width="31.6" height="103.2" fill="#000"/>
<line x1="240.05" y1="725" x2="240.05" y2="737.7" stroke="#5e5e5e" stroke-width="1.7" stroke-linecap="butt"/>
<path d="M237.45 724.4 L242.65 724.4 L240.05 727.2 Z" fill="#5a5a5a"/>
<rect x="225.4" y="738.65" width="29.3" height="119.15" fill="#fff" stroke="#6e6e6e" stroke-width="1.9" rx="1" ry="1"/>
<line x1="279.3" y1="718.7" x2="279.3" y2="750.1" stroke="#5e5e5e" stroke-width="1.7" stroke-linecap="butt"/>
<path d="M276.7 718.1 L281.9 718.1 L279.3 720.9 Z" fill="#5a5a5a"/>
<rect x="263.55" y="750.1" width="31.5" height="107.7" fill="#000"/>
<line x1="63.7" y1="704" x2="63.7" y2="858.6" stroke="#6e6e6e" stroke-width="2" stroke-linecap="butt"/>
<line x1="62.7" y1="858" x2="298.5" y2="858" stroke="#6e6e6e" stroke-width="2.3" stroke-linecap="butt"/>
<line x1="60.3" y1="704.5" x2="63.7" y2="704.5" stroke="#6e6e6e" stroke-width="1.3" stroke-linecap="butt"/>
<text x="54.1" y="707.7" font-size="10.1" font-weight="bold" text-anchor="end" fill="#1c1c1c" textLength="6.46" lengthAdjust="spacingAndGlyphs" stroke="#1c1c1c" stroke-width="0.25">2</text>
<line x1="60.3" y1="742.83" x2="63.7" y2="742.83" stroke="#6e6e6e" stroke-width="1.3" stroke-linecap="butt"/>
<text x="54.1" y="746.03" font-size="10.1" font-weight="bold" text-anchor="end" fill="#1c1c1c" textLength="16.14" lengthAdjust="spacingAndGlyphs" stroke="#1c1c1c" stroke-width="0.25">1.5</text>
<line x1="60.3" y1="781.15" x2="63.7" y2="781.15" stroke="#6e6e6e" stroke-width="1.3" stroke-linecap="butt"/>
<text x="54.1" y="784.35" font-size="10.1" font-weight="bold" text-anchor="end" fill="#1c1c1c" textLength="6.46" lengthAdjust="spacingAndGlyphs" stroke="#1c1c1c" stroke-width="0.25">1</text>
<line x1="60.3" y1="819.47" x2="63.7" y2="819.47" stroke="#6e6e6e" stroke-width="1.3" stroke-linecap="butt"/>
<text x="54.1" y="822.67" font-size="10.1" font-weight="bold" text-anchor="end" fill="#1c1c1c" textLength="16.14" lengthAdjust="spacingAndGlyphs" stroke="#1c1c1c" stroke-width="0.25">0.5</text>
<line x1="60.3" y1="857.8" x2="63.7" y2="857.8" stroke="#6e6e6e" stroke-width="1.3" stroke-linecap="butt"/>
<text x="54.1" y="861" font-size="10.1" font-weight="bold" text-anchor="end" fill="#1c1c1c" textLength="6.46" lengthAdjust="spacingAndGlyphs" stroke="#1c1c1c" stroke-width="0.25">0</text>
<line x1="84.2" y1="709.1" x2="242.9" y2="709.1" stroke="#7a7a7a" stroke-width="2.14" stroke-linecap="butt"/>
<text x="159.4" y="709.9" font-size="14.2" font-weight="bold" text-anchor="middle" fill="#0c0c0c" stroke="#0c0c0c" stroke-width="0.65" stroke-linejoin="round">*</text>
<line x1="83.5" y1="719.7" x2="158.1" y2="719.7" stroke="#7a7a7a" stroke-width="2.14" stroke-linecap="butt"/>
<text x="121.4" y="720.5" font-size="14.2" font-weight="bold" text-anchor="middle" fill="#0c0c0c" stroke="#0c0c0c" stroke-width="0.65" stroke-linejoin="round">*</text>
<line x1="81" y1="758.9" x2="123.2" y2="758.9" stroke="#7a7a7a" stroke-width="1.78" stroke-linecap="butt"/>
<text x="103.7" y="760.5" font-size="14.2" font-weight="bold" text-anchor="middle" fill="#0c0c0c" stroke="#0c0c0c" stroke-width="0.65" stroke-linejoin="round">*</text>
<text x="11.9" y="870.9" font-size="12.2" font-weight="bold" text-anchor="start" fill="#1c1c1c" textLength="48.8" lengthAdjust="spacingAndGlyphs">Cocaine</text>
<text x="86.8" y="873" font-size="14" font-weight="bold" text-anchor="middle" fill="#333" stroke="#333" stroke-width="0.3">-</text>
<text x="165.7" y="873" font-size="14" font-weight="bold" text-anchor="middle" fill="#333" stroke="#333" stroke-width="0.3">-</text>
<text x="243.4" y="873" font-size="14" font-weight="bold" text-anchor="middle" fill="#333" stroke="#333" stroke-width="0.3">-</text>
<text x="125.2" y="871.95" font-size="9.6" font-weight="bold" text-anchor="middle" fill="#161616" stroke="#161616" stroke-width="1.25" stroke-linejoin="round">+</text>
<text x="203.6" y="871.95" font-size="9.6" font-weight="bold" text-anchor="middle" fill="#161616" stroke="#161616" stroke-width="1.25" stroke-linejoin="round">+</text>
<text x="282.6" y="871.95" font-size="9.6" font-weight="bold" text-anchor="middle" fill="#161616" stroke="#161616" stroke-width="1.25" stroke-linejoin="round">+</text>
<line x1="77.9" y1="878.6" x2="133.6" y2="878.6" stroke="#787878" stroke-width="2.1" stroke-linecap="butt"/>
<line x1="153.6" y1="878.6" x2="210" y2="878.6" stroke="#787878" stroke-width="2.1" stroke-linecap="butt"/>
<line x1="237" y1="878.6" x2="293.4" y2="878.6" stroke="#787878" stroke-width="2.1" stroke-linecap="butt"/>
<text x="105.7" y="894.3" font-size="11.6" font-weight="bold" text-anchor="middle" fill="#1c1c1c" textLength="14.8" lengthAdjust="spacingAndGlyphs">5h</text>
<text x="180.9" y="894.3" font-size="11.6" font-weight="bold" text-anchor="middle" fill="#1c1c1c" textLength="22.2" lengthAdjust="spacingAndGlyphs">10h</text>
<text x="265.6" y="894.3" font-size="11.6" font-weight="bold" text-anchor="middle" fill="#1c1c1c" textLength="22.2" lengthAdjust="spacingAndGlyphs">15h</text>
<text transform="translate(31.4 779.3) rotate(-90)" font-size="15.3" font-weight="bold" text-anchor="middle" fill="#222" stroke="none" textLength="134.8" lengthAdjust="spacingAndGlyphs">Rev erbβ  mRNA level</text>
<text x="11.2" y="707.4" font-size="19.2" font-weight="bold" text-anchor="start" fill="#0a0a0a" stroke="#0a0a0a" stroke-width="0.3">g</text>
</g>
<g>
<line x1="398.3" y1="831" x2="398.3" y2="832.5" stroke="#5e5e5e" stroke-width="1.7" stroke-linecap="butt"/>
<path d="M395.7 830.4 L400.9 830.4 L398.3 833.2 Z" fill="#5a5a5a"/>
<rect x="383.7" y="833.45" width="29.2" height="24.35" fill="#fff" stroke="#6e6e6e" stroke-width="1.9" rx="1" ry="1"/>
<line x1="437.75" y1="812.3" x2="437.75" y2="820.4" stroke="#5e5e5e" stroke-width="1.7" stroke-linecap="butt"/>
<path d="M435.15 811.7 L440.35 811.7 L437.75 814.5 Z" fill="#5a5a5a"/>
<rect x="422.25" y="820.4" width="31" height="37.4" fill="#000"/>
<line x1="476.7" y1="777.9" x2="476.7" y2="787" stroke="#5e5e5e" stroke-width="1.7" stroke-linecap="butt"/>
<path d="M474.1 777.3 L479.3 777.3 L476.7 780.1 Z" fill="#5a5a5a"/>
<rect x="462.1" y="787.95" width="29.2" height="69.85" fill="#fff" stroke="#6e6e6e" stroke-width="1.9" rx="1" ry="1"/>
<line x1="516.2" y1="730.6" x2="516.2" y2="749.1" stroke="#5e5e5e" stroke-width="1.7" stroke-linecap="butt"/>
<path d="M513.6 730 L518.8 730 L516.2 732.8 Z" fill="#5a5a5a"/>
<rect x="500.65" y="749.1" width="31.1" height="108.7" fill="#000"/>
<line x1="554.75" y1="790.8" x2="554.75" y2="796.4" stroke="#5e5e5e" stroke-width="1.7" stroke-linecap="butt"/>
<path d="M552.15 790.2 L557.35 790.2 L554.75 793 Z" fill="#5a5a5a"/>
<rect x="540.2" y="797.35" width="29.1" height="60.45" fill="#fff" stroke="#6e6e6e" stroke-width="1.9" rx="1" ry="1"/>
<line x1="594" y1="784.5" x2="594" y2="802.7" stroke="#5e5e5e" stroke-width="1.7" stroke-linecap="butt"/>
<path d="M591.4 783.9 L596.6 783.9 L594 786.7 Z" fill="#5a5a5a"/>
<rect x="578.35" y="802.7" width="31.3" height="55.1" fill="#000"/>
<line x1="378" y1="704" x2="378" y2="858.6" stroke="#6e6e6e" stroke-width="2" stroke-linecap="butt"/>
<line x1="377" y1="858" x2="612.8" y2="858" stroke="#6e6e6e" stroke-width="2.3" stroke-linecap="butt"/>
<line x1="374.6" y1="704.5" x2="378" y2="704.5" stroke="#6e6e6e" stroke-width="1.3" stroke-linecap="butt"/>
<text x="368.4" y="707.7" font-size="10.1" font-weight="bold" text-anchor="end" fill="#1c1c1c" textLength="6.46" lengthAdjust="spacingAndGlyphs" stroke="#1c1c1c" stroke-width="0.25">3</text>
<line x1="374.6" y1="730.05" x2="378" y2="730.05" stroke="#6e6e6e" stroke-width="1.3" stroke-linecap="butt"/>
<text x="368.4" y="733.25" font-size="10.1" font-weight="bold" text-anchor="end" fill="#1c1c1c" textLength="16.14" lengthAdjust="spacingAndGlyphs" stroke="#1c1c1c" stroke-width="0.25">2.5</text>
<line x1="374.6" y1="755.6" x2="378" y2="755.6" stroke="#6e6e6e" stroke-width="1.3" stroke-linecap="butt"/>
<text x="368.4" y="758.8" font-size="10.1" font-weight="bold" text-anchor="end" fill="#1c1c1c" textLength="6.46" lengthAdjust="spacingAndGlyphs" stroke="#1c1c1c" stroke-width="0.25">2</text>
<line x1="374.6" y1="781.15" x2="378" y2="781.15" stroke="#6e6e6e" stroke-width="1.3" stroke-linecap="butt"/>
<text x="368.4" y="784.35" font-size="10.1" font-weight="bold" text-anchor="end" fill="#1c1c1c" textLength="16.14" lengthAdjust="spacingAndGlyphs" stroke="#1c1c1c" stroke-width="0.25">1.5</text>
<line x1="374.6" y1="806.7" x2="378" y2="806.7" stroke="#6e6e6e" stroke-width="1.3" stroke-linecap="butt"/>
<text x="368.4" y="809.9" font-size="10.1" font-weight="bold" text-anchor="end" fill="#1c1c1c" textLength="6.46" lengthAdjust="spacingAndGlyphs" stroke="#1c1c1c" stroke-width="0.25">1</text>
<line x1="374.6" y1="832.25" x2="378" y2="832.25" stroke="#6e6e6e" stroke-width="1.3" stroke-linecap="butt"/>
<text x="368.4" y="835.45" font-size="10.1" font-weight="bold" text-anchor="end" fill="#1c1c1c" textLength="16.14" lengthAdjust="spacingAndGlyphs" stroke="#1c1c1c" stroke-width="0.25">0.5</text>
<line x1="374.6" y1="857.8" x2="378" y2="857.8" stroke="#6e6e6e" stroke-width="1.3" stroke-linecap="butt"/>
<text x="368.4" y="861" font-size="10.1" font-weight="bold" text-anchor="end" fill="#1c1c1c" textLength="6.46" lengthAdjust="spacingAndGlyphs" stroke="#1c1c1c" stroke-width="0.25">0</text>
<line x1="397.8" y1="712.4" x2="555.9" y2="712.4" stroke="#7a7a7a" stroke-width="2.14" stroke-linecap="butt"/>
<text x="477" y="713.7" font-size="14.2" font-weight="bold" text-anchor="middle" fill="#0c0c0c" textLength="14.2" lengthAdjust="spacingAndGlyphs" stroke="#0c0c0c" stroke-width="0.65" stroke-linejoin="round">**</text>
<line x1="474.4" y1="725" x2="515.4" y2="725" stroke="#7a7a7a" stroke-width="1.78" stroke-linecap="butt"/>
<text x="496.4" y="726.9" font-size="14.2" font-weight="bold" text-anchor="middle" fill="#0c0c0c" stroke="#0c0c0c" stroke-width="0.65" stroke-linejoin="round">*</text>
<line x1="398.5" y1="773.6" x2="473.2" y2="773.6" stroke="#7a7a7a" stroke-width="2.02" stroke-linecap="butt"/>
<text x="436.5" y="774.9" font-size="14.2" font-weight="bold" text-anchor="middle" fill="#0c0c0c" textLength="14.2" lengthAdjust="spacingAndGlyphs" stroke="#0c0c0c" stroke-width="0.65" stroke-linejoin="round">**</text>
<text x="320.6" y="873.6" font-size="12.2" font-weight="bold" text-anchor="start" fill="#1c1c1c" textLength="49.6" lengthAdjust="spacingAndGlyphs">Sucrose</text>
<text x="396" y="875" font-size="14" font-weight="bold" text-anchor="middle" fill="#333" stroke="#333" stroke-width="0.3">-</text>
<text x="474.4" y="875" font-size="14" font-weight="bold" text-anchor="middle" fill="#333" stroke="#333" stroke-width="0.3">-</text>
<text x="552.3" y="875" font-size="14" font-weight="bold" text-anchor="middle" fill="#333" stroke="#333" stroke-width="0.3">-</text>
<text x="434" y="873.95" font-size="9.6" font-weight="bold" text-anchor="middle" fill="#161616" stroke="#161616" stroke-width="1.25" stroke-linejoin="round">+</text>
<text x="512.4" y="873.95" font-size="9.6" font-weight="bold" text-anchor="middle" fill="#161616" stroke="#161616" stroke-width="1.25" stroke-linejoin="round">+</text>
<text x="592.6" y="873.95" font-size="9.6" font-weight="bold" text-anchor="middle" fill="#161616" stroke="#161616" stroke-width="1.25" stroke-linejoin="round">+</text>
<line x1="387.2" y1="881.1" x2="442.8" y2="881.1" stroke="#787878" stroke-width="2.1" stroke-linecap="butt"/>
<line x1="462.5" y1="881.1" x2="518.7" y2="881.1" stroke="#787878" stroke-width="2.1" stroke-linecap="butt"/>
<line x1="546.5" y1="881.1" x2="602.7" y2="881.1" stroke="#787878" stroke-width="2.1" stroke-linecap="butt"/>
<text x="415.7" y="896.3" font-size="11.6" font-weight="bold" text-anchor="middle" fill="#1c1c1c" textLength="14.8" lengthAdjust="spacingAndGlyphs">5h</text>
<text x="490.1" y="896.3" font-size="11.6" font-weight="bold" text-anchor="middle" fill="#1c1c1c" textLength="22.2" lengthAdjust="spacingAndGlyphs">10h</text>
<text x="574.4" y="896.3" font-size="11.6" font-weight="bold" text-anchor="middle" fill="#1c1c1c" textLength="22.2" lengthAdjust="spacingAndGlyphs">15h</text>
</g>
<g>
<line x1="717.3" y1="791.3" x2="717.3" y2="805.7" stroke="#5e5e5e" stroke-width="1.7" stroke-linecap="butt"/>
<path d="M714.7 790.7 L719.9 790.7 L717.3 793.5 Z" fill="#5a5a5a"/>
<rect x="702.4" y="806.65" width="29.8" height="51.65" fill="#fff" stroke="#6e6e6e" stroke-width="1.9" rx="1" ry="1"/>
<line x1="756.85" y1="805.2" x2="756.85" y2="814.6" stroke="#5e5e5e" stroke-width="1.7" stroke-linecap="butt"/>
<path d="M754.25 804.6 L759.45 804.6 L756.85 807.4 Z" fill="#5a5a5a"/>
<rect x="740.95" y="814.6" width="31.8" height="43.7" fill="#000"/>
<line x1="796.7" y1="715.9" x2="796.7" y2="740" stroke="#5e5e5e" stroke-width="1.7" stroke-linecap="butt"/>
<path d="M794.1 715.3 L799.3 715.3 L796.7 718.1 Z" fill="#5a5a5a"/>
<rect x="782.1" y="740.95" width="29.2" height="117.35" fill="#fff" stroke="#6e6e6e" stroke-width="1.9" rx="1" ry="1"/>
<line x1="836.45" y1="783" x2="836.45" y2="791.8" stroke="#5e5e5e" stroke-width="1.7" stroke-linecap="butt"/>
<path d="M833.85 782.4 L839.05 782.4 L836.45 785.2 Z" fill="#5a5a5a"/>
<rect x="820.65" y="791.8" width="31.6" height="66.5" fill="#000"/>
<line x1="875.75" y1="752.1" x2="875.75" y2="759.7" stroke="#5e5e5e" stroke-width="1.7" stroke-linecap="butt"/>
<path d="M873.15 751.5 L878.35 751.5 L875.75 754.3 Z" fill="#5a5a5a"/>
<rect x="861" y="760.65" width="29.5" height="97.65" fill="#fff" stroke="#6e6e6e" stroke-width="1.9" rx="1" ry="1"/>
<line x1="915.6" y1="745" x2="915.6" y2="767.8" stroke="#5e5e5e" stroke-width="1.7" stroke-linecap="butt"/>
<path d="M913 744.4 L918.2 744.4 L915.6 747.2 Z" fill="#5a5a5a"/>
<rect x="899.85" y="767.8" width="31.5" height="90.5" fill="#000"/>
<line x1="697.3" y1="704" x2="697.3" y2="859.1" stroke="#6e6e6e" stroke-width="2" stroke-linecap="butt"/>
<line x1="696.3" y1="858.5" x2="933.6" y2="858.5" stroke="#6e6e6e" stroke-width="2.3" stroke-linecap="butt"/>
<line x1="693.9" y1="704.5" x2="697.3" y2="704.5" stroke="#6e6e6e" stroke-width="1.3" stroke-linecap="butt"/>
<text x="687.7" y="707.7" font-size="10.1" font-weight="bold" text-anchor="end" fill="#1c1c1c" textLength="16.14" lengthAdjust="spacingAndGlyphs" stroke="#1c1c1c" stroke-width="0.25">1.6</text>
<line x1="693.9" y1="723.73" x2="697.3" y2="723.73" stroke="#6e6e6e" stroke-width="1.3" stroke-linecap="butt"/>
<text x="687.7" y="726.93" font-size="10.1" font-weight="bold" text-anchor="end" fill="#1c1c1c" textLength="16.14" lengthAdjust="spacingAndGlyphs" stroke="#1c1c1c" stroke-width="0.25">1.4</text>
<line x1="693.9" y1="742.95" x2="697.3" y2="742.95" stroke="#6e6e6e" stroke-width="1.3" stroke-linecap="butt"/>
<text x="687.7" y="746.15" font-size="10.1" font-weight="bold" text-anchor="end" fill="#1c1c1c" textLength="16.14" lengthAdjust="spacingAndGlyphs" stroke="#1c1c1c" stroke-width="0.25">1.2</text>
<line x1="693.9" y1="762.17" x2="697.3" y2="762.17" stroke="#6e6e6e" stroke-width="1.3" stroke-linecap="butt"/>
<text x="687.7" y="765.38" font-size="10.1" font-weight="bold" text-anchor="end" fill="#1c1c1c" textLength="6.46" lengthAdjust="spacingAndGlyphs" stroke="#1c1c1c" stroke-width="0.25">1</text>
<line x1="693.9" y1="781.4" x2="697.3" y2="781.4" stroke="#6e6e6e" stroke-width="1.3" stroke-linecap="butt"/>
<text x="687.7" y="784.6" font-size="10.1" font-weight="bold" text-anchor="end" fill="#1c1c1c" textLength="16.14" lengthAdjust="spacingAndGlyphs" stroke="#1c1c1c" stroke-width="0.25">0.8</text>
<line x1="693.9" y1="800.62" x2="697.3" y2="800.62" stroke="#6e6e6e" stroke-width="1.3" stroke-linecap="butt"/>
<text x="687.7" y="803.83" font-size="10.1" font-weight="bold" text-anchor="end" fill="#1c1c1c" textLength="16.14" lengthAdjust="spacingAndGlyphs" stroke="#1c1c1c" stroke-width="0.25">0.6</text>
<line x1="693.9" y1="819.85" x2="697.3" y2="819.85" stroke="#6e6e6e" stroke-width="1.3" stroke-linecap="butt"/>
<text x="687.7" y="823.05" font-size="10.1" font-weight="bold" text-anchor="end" fill="#1c1c1c" textLength="16.14" lengthAdjust="spacingAndGlyphs" stroke="#1c1c1c" stroke-width="0.25">0.4</text>
<line x1="693.9" y1="839.07" x2="697.3" y2="839.07" stroke="#6e6e6e" stroke-width="1.3" stroke-linecap="butt"/>
<text x="687.7" y="842.27" font-size="10.1" font-weight="bold" text-anchor="end" fill="#1c1c1c" textLength="16.14" lengthAdjust="spacingAndGlyphs" stroke="#1c1c1c" stroke-width="0.25">0.2</text>
<line x1="693.9" y1="858.3" x2="697.3" y2="858.3" stroke="#6e6e6e" stroke-width="1.3" stroke-linecap="butt"/>
<text x="687.7" y="861.5" font-size="10.1" font-weight="bold" text-anchor="end" fill="#1c1c1c" textLength="6.46" lengthAdjust="spacingAndGlyphs" stroke="#1c1c1c" stroke-width="0.25">0</text>
<line x1="715.3" y1="698.2" x2="873.4" y2="698.2" stroke="#7a7a7a" stroke-width="2.14" stroke-linecap="butt"/>
<text x="789.9" y="699.1" font-size="14.2" font-weight="bold" text-anchor="middle" fill="#0c0c0c" stroke="#0c0c0c" stroke-width="0.65" stroke-linejoin="round">*</text>
<line x1="715.3" y1="712.1" x2="789.9" y2="712.1" stroke="#7a7a7a" stroke-width="2.02" stroke-linecap="butt"/>
<text x="752.7" y="713.1" font-size="14.2" font-weight="bold" text-anchor="middle" fill="#0c0c0c" textLength="14.2" lengthAdjust="spacingAndGlyphs" stroke="#0c0c0c" stroke-width="0.65" stroke-linejoin="round">**</text>
<line x1="798.2" y1="712.1" x2="838.7" y2="712.1" stroke="#7a7a7a" stroke-width="1.78" stroke-linecap="butt"/>
<text x="818.5" y="713.9" font-size="14.2" font-weight="bold" text-anchor="middle" fill="#0c0c0c" textLength="14.2" lengthAdjust="spacingAndGlyphs" stroke="#0c0c0c" stroke-width="0.65" stroke-linejoin="round">**</text>
<text x="643.2" y="875.9" font-size="12.2" font-weight="bold" text-anchor="start" fill="#1c1c1c" textLength="48.8" lengthAdjust="spacingAndGlyphs">Cocaine</text>
<text x="719" y="877.2" font-size="14" font-weight="bold" text-anchor="middle" fill="#333" stroke="#333" stroke-width="0.3">-</text>
<text x="798.2" y="877.2" font-size="14" font-weight="bold" text-anchor="middle" fill="#333" stroke="#333" stroke-width="0.3">-</text>
<text x="877.4" y="877.2" font-size="14" font-weight="bold" text-anchor="middle" fill="#333" stroke="#333" stroke-width="0.3">-</text>
<text x="758.3" y="876.15" font-size="9.6" font-weight="bold" text-anchor="middle" fill="#161616" stroke="#161616" stroke-width="1.25" stroke-linejoin="round">+</text>
<text x="837.4" y="876.15" font-size="9.6" font-weight="bold" text-anchor="middle" fill="#161616" stroke="#161616" stroke-width="1.25" stroke-linejoin="round">+</text>
<text x="916.6" y="876.15" font-size="9.6" font-weight="bold" text-anchor="middle" fill="#161616" stroke="#161616" stroke-width="1.25" stroke-linejoin="round">+</text>
<line x1="709.7" y1="882.4" x2="766.6" y2="882.4" stroke="#787878" stroke-width="2.1" stroke-linecap="butt"/>
<line x1="786.3" y1="882.4" x2="843.3" y2="882.4" stroke="#787878" stroke-width="2.1" stroke-linecap="butt"/>
<line x1="870.3" y1="882.4" x2="927.2" y2="882.4" stroke="#787878" stroke-width="2.1" stroke-linecap="butt"/>
<text x="738.3" y="898.7" font-size="11.6" font-weight="bold" text-anchor="middle" fill="#1c1c1c" textLength="14.8" lengthAdjust="spacingAndGlyphs">5h</text>
<text x="815.2" y="898.7" font-size="11.6" font-weight="bold" text-anchor="middle" fill="#1c1c1c" textLength="22.2" lengthAdjust="spacingAndGlyphs">10h</text>
<text x="899.4" y="898.7" font-size="11.6" font-weight="bold" text-anchor="middle" fill="#1c1c1c" textLength="22.2" lengthAdjust="spacingAndGlyphs">15h</text>
<text transform="translate(661.6 781.6) rotate(-90)" font-size="15.3" font-weight="bold" text-anchor="middle" fill="#222" stroke="none" textLength="148" lengthAdjust="spacingAndGlyphs">DBP1 mRNA expression</text>
<text x="642.6" y="704.5" font-size="19.2" font-weight="bold" text-anchor="start" fill="#0a0a0a" stroke="#0a0a0a" stroke-width="0.3">h</text>
</g>
<g>
<line x1="1026.6" y1="774.4" x2="1026.6" y2="790.8" stroke="#5e5e5e" stroke-width="1.7" stroke-linecap="butt"/>
<path d="M1024 773.8 L1029.2 773.8 L1026.6 776.6 Z" fill="#5a5a5a"/>
<rect x="1011.6" y="791.75" width="30" height="67.55" fill="#fff" stroke="#6e6e6e" stroke-width="1.9" rx="1" ry="1"/>
<line x1="1066.4" y1="738.2" x2="1066.4" y2="753.4" stroke="#5e5e5e" stroke-width="1.7" stroke-linecap="butt"/>
<path d="M1063.8 737.6 L1069 737.6 L1066.4 740.4 Z" fill="#5a5a5a"/>
<rect x="1050.35" y="753.4" width="32.1" height="105.9" fill="#000"/>
<line x1="1106.05" y1="723" x2="1106.05" y2="740" stroke="#5e5e5e" stroke-width="1.7" stroke-linecap="butt"/>
<path d="M1103.45 722.4 L1108.65 722.4 L1106.05 725.2 Z" fill="#5a5a5a"/>
<rect x="1091.3" y="740.95" width="29.5" height="118.35" fill="#fff" stroke="#6e6e6e" stroke-width="1.9" rx="1" ry="1"/>
<line x1="1145.25" y1="744.5" x2="1145.25" y2="759.2" stroke="#5e5e5e" stroke-width="1.7" stroke-linecap="butt"/>
<path d="M1142.65 743.9 L1147.85 743.9 L1145.25 746.7 Z" fill="#5a5a5a"/>
<rect x="1129.35" y="759.2" width="31.8" height="100.1" fill="#000"/>
<line x1="1184.95" y1="788.3" x2="1184.95" y2="793.1" stroke="#5e5e5e" stroke-width="1.7" stroke-linecap="butt"/>
<path d="M1182.35 787.7 L1187.55 787.7 L1184.95 790.5 Z" fill="#5a5a5a"/>
<rect x="1170.2" y="794.05" width="29.5" height="65.25" fill="#fff" stroke="#6e6e6e" stroke-width="1.9" rx="1" ry="1"/>
<line x1="1224.55" y1="735.7" x2="1224.55" y2="748.8" stroke="#5e5e5e" stroke-width="1.7" stroke-linecap="butt"/>
<path d="M1221.95 735.1 L1227.15 735.1 L1224.55 737.9 Z" fill="#5a5a5a"/>
<rect x="1209.05" y="748.8" width="31" height="110.5" fill="#000"/>
<line x1="1006.7" y1="703.7" x2="1006.7" y2="860.1" stroke="#6e6e6e" stroke-width="2" stroke-linecap="butt"/>
<line x1="1005.7" y1="859.5" x2="1243.5" y2="859.5" stroke="#6e6e6e" stroke-width="2.3" stroke-linecap="butt"/>
<line x1="1003.3" y1="704.2" x2="1006.7" y2="704.2" stroke="#6e6e6e" stroke-width="1.3" stroke-linecap="butt"/>
<text x="997.1" y="707.4" font-size="10.1" font-weight="bold" text-anchor="end" fill="#1c1c1c" textLength="6.46" lengthAdjust="spacingAndGlyphs" stroke="#1c1c1c" stroke-width="0.25">2</text>
<line x1="1003.3" y1="743.03" x2="1006.7" y2="743.03" stroke="#6e6e6e" stroke-width="1.3" stroke-linecap="butt"/>
<text x="997.1" y="746.23" font-size="10.1" font-weight="bold" text-anchor="end" fill="#1c1c1c" textLength="16.14" lengthAdjust="spacingAndGlyphs" stroke="#1c1c1c" stroke-width="0.25">1.5</text>
<line x1="1003.3" y1="781.85" x2="1006.7" y2="781.85" stroke="#6e6e6e" stroke-width="1.3" stroke-linecap="butt"/>
<text x="997.1" y="785.05" font-size="10.1" font-weight="bold" text-anchor="end" fill="#1c1c1c" textLength="6.46" lengthAdjust="spacingAndGlyphs" stroke="#1c1c1c" stroke-width="0.25">1</text>
<line x1="1003.3" y1="820.67" x2="1006.7" y2="820.67" stroke="#6e6e6e" stroke-width="1.3" stroke-linecap="butt"/>
<text x="997.1" y="823.88" font-size="10.1" font-weight="bold" text-anchor="end" fill="#1c1c1c" textLength="16.14" lengthAdjust="spacingAndGlyphs" stroke="#1c1c1c" stroke-width="0.25">0.5</text>
<line x1="1003.3" y1="859.5" x2="1006.7" y2="859.5" stroke="#6e6e6e" stroke-width="1.3" stroke-linecap="butt"/>
<text x="997.1" y="862.7" font-size="10.1" font-weight="bold" text-anchor="end" fill="#1c1c1c" textLength="6.46" lengthAdjust="spacingAndGlyphs" stroke="#1c1c1c" stroke-width="0.25">0</text>
<line x1="1024.7" y1="717.4" x2="1106.9" y2="717.4" stroke="#7a7a7a" stroke-width="2.02" stroke-linecap="butt"/>
<text x="1063.9" y="718.5" font-size="14.2" font-weight="bold" text-anchor="middle" fill="#0c0c0c" textLength="14.2" lengthAdjust="spacingAndGlyphs" stroke="#0c0c0c" stroke-width="0.65" stroke-linejoin="round">**</text>
<line x1="1024.7" y1="733.9" x2="1066.9" y2="733.9" stroke="#7a7a7a" stroke-width="1.78" stroke-linecap="butt"/>
<text x="1047" y="735.7" font-size="14.2" font-weight="bold" text-anchor="middle" fill="#0c0c0c" stroke="#0c0c0c" stroke-width="0.65" stroke-linejoin="round">*</text>
<line x1="1182.8" y1="731.4" x2="1224" y2="731.4" stroke="#7a7a7a" stroke-width="1.78" stroke-linecap="butt"/>
<text x="1205.6" y="733.1" font-size="14.2" font-weight="bold" text-anchor="middle" fill="#0c0c0c" stroke="#0c0c0c" stroke-width="0.65" stroke-linejoin="round">*</text>
<text x="951.3" y="877.9" font-size="12.2" font-weight="bold" text-anchor="start" fill="#1c1c1c" textLength="48.8" lengthAdjust="spacingAndGlyphs">Sucrose</text>
<text x="1026.7" y="879.2" font-size="14" font-weight="bold" text-anchor="middle" fill="#333" stroke="#333" stroke-width="0.3">-</text>
<text x="1106.1" y="879.2" font-size="14" font-weight="bold" text-anchor="middle" fill="#333" stroke="#333" stroke-width="0.3">-</text>
<text x="1184.6" y="879.2" font-size="14" font-weight="bold" text-anchor="middle" fill="#333" stroke="#333" stroke-width="0.3">-</text>
<text x="1065.9" y="878.15" font-size="9.6" font-weight="bold" text-anchor="middle" fill="#161616" stroke="#161616" stroke-width="1.25" stroke-linejoin="round">+</text>
<text x="1144.9" y="878.15" font-size="9.6" font-weight="bold" text-anchor="middle" fill="#161616" stroke="#161616" stroke-width="1.25" stroke-linejoin="round">+</text>
<text x="1225" y="878.15" font-size="9.6" font-weight="bold" text-anchor="middle" fill="#161616" stroke="#161616" stroke-width="1.25" stroke-linejoin="round">+</text>
<line x1="1017.9" y1="884.4" x2="1074.5" y2="884.4" stroke="#787878" stroke-width="2.1" stroke-linecap="butt"/>
<line x1="1093.8" y1="884.4" x2="1150.4" y2="884.4" stroke="#787878" stroke-width="2.1" stroke-linecap="butt"/>
<line x1="1178.2" y1="884.4" x2="1235.2" y2="884.4" stroke="#787878" stroke-width="2.1" stroke-linecap="butt"/>
<text x="1046.2" y="900.5" font-size="11.6" font-weight="bold" text-anchor="middle" fill="#1c1c1c" textLength="14.8" lengthAdjust="spacingAndGlyphs">5h</text>
<text x="1122.1" y="900.5" font-size="11.6" font-weight="bold" text-anchor="middle" fill="#1c1c1c" textLength="22.2" lengthAdjust="spacingAndGlyphs">10h</text>
<text x="1206.8" y="900.5" font-size="11.6" font-weight="bold" text-anchor="middle" fill="#1c1c1c" textLength="22.2" lengthAdjust="spacingAndGlyphs">15h</text>
</g>
</g></svg></body></html>
